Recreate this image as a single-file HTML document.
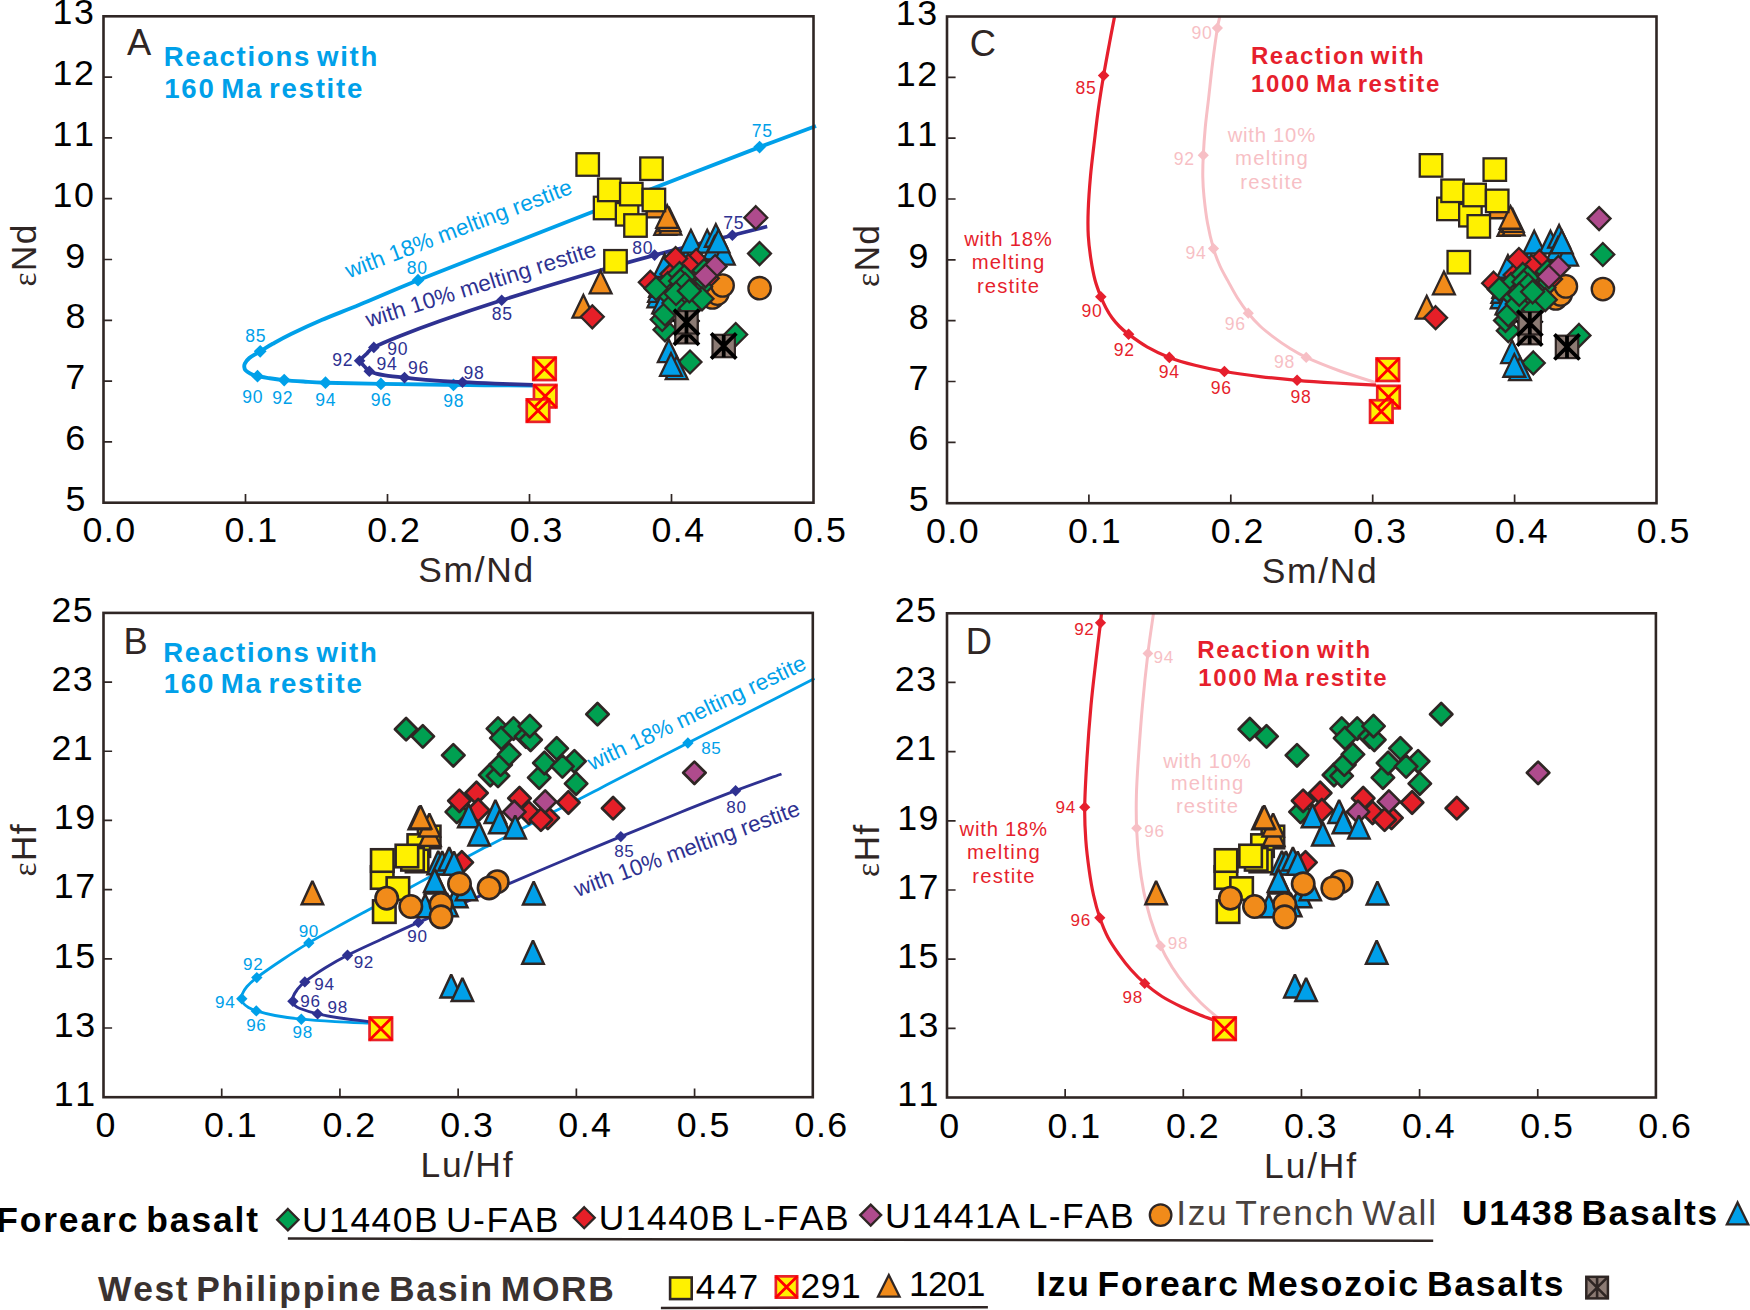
<!DOCTYPE html>
<html><head><meta charset="utf-8"><title>Figure</title>
<style>html,body{margin:0;padding:0;background:#fff}svg{display:block}text{font-kerning:none}</style></head>
<body>
<svg width="1750" height="1310" viewBox="0 0 1750 1310">
<rect width="1750" height="1310" fill="#fff"/>
<path d="M816 126C806.6 129.52 780.6 139.1 759.6 147.1C738.6 155.1 716.6 163.68 690 174C663.4 184.32 630 197.3 600 209C570 220.7 540.33 232.33 510 244.2C479.67 256.07 443 270.15 418 280.2C393 290.25 376.07 297.87 360 304.5C343.93 311.13 333.08 315.08 321.6 320C310.12 324.92 299.25 330.03 291.1 334C282.95 337.97 277.85 340.92 272.7 343.8C267.55 346.68 264.07 348.95 260.2 351.3C256.33 353.65 252.05 355.87 249.5 357.9C246.95 359.93 245.77 361.98 244.9 363.5C244.03 365.02 244.2 365.87 244.3 367C244.4 368.13 244.53 369.23 245.5 370.3C246.47 371.37 248.1 372.42 250.1 373.4C252.1 374.38 254.23 375.4 257.5 376.2C260.77 377 265.25 377.55 269.7 378.2C274.15 378.85 278.6 379.55 284.2 380.1C289.8 380.65 296.42 381.07 303.3 381.5C310.18 381.93 312.57 382.3 325.5 382.7C338.43 383.1 359.57 383.53 380.9 383.9C402.23 384.27 428.15 384.62 453.5 384.9C478.85 385.18 519.75 385.48 533 385.6" fill="none" stroke="#00a0e9" stroke-width="3.9" stroke-linecap="butt" stroke-linejoin="round"/>
<path d="M759.6 140.7L766 147.1L759.6 153.5L753.2 147.1Z" fill="#00a0e9"/>
<path d="M418 273.8L424.4 280.2L418 286.6L411.6 280.2Z" fill="#00a0e9"/>
<path d="M260.2 344.9L266.6 351.3L260.2 357.7L253.8 351.3Z" fill="#00a0e9"/>
<path d="M257.5 369.8L263.9 376.2L257.5 382.6L251.1 376.2Z" fill="#00a0e9"/>
<path d="M284.2 373.7L290.6 380.1L284.2 386.5L277.8 380.1Z" fill="#00a0e9"/>
<path d="M325.5 376.3L331.9 382.7L325.5 389.1L319.1 382.7Z" fill="#00a0e9"/>
<path d="M380.9 377.5L387.3 383.9L380.9 390.3L374.5 383.9Z" fill="#00a0e9"/>
<path d="M453.5 378.5L459.9 384.9L453.5 391.3L447.1 384.9Z" fill="#00a0e9"/>
<text x="255.85" y="342" font-family='"Liberation Sans", sans-serif' font-size="17.6" fill="#00a0e9" text-anchor="middle" letter-spacing="0.7">85</text>
<text x="252.65" y="403.3" font-family='"Liberation Sans", sans-serif' font-size="17.6" fill="#00a0e9" text-anchor="middle" letter-spacing="0.7">90</text>
<text x="282.65" y="404.3" font-family='"Liberation Sans", sans-serif' font-size="17.6" fill="#00a0e9" text-anchor="middle" letter-spacing="0.7">92</text>
<text x="325.65" y="405.6" font-family='"Liberation Sans", sans-serif' font-size="17.6" fill="#00a0e9" text-anchor="middle" letter-spacing="0.7">94</text>
<text x="381.25" y="406.4" font-family='"Liberation Sans", sans-serif' font-size="17.6" fill="#00a0e9" text-anchor="middle" letter-spacing="0.7">96</text>
<text x="453.85" y="407" font-family='"Liberation Sans", sans-serif' font-size="17.6" fill="#00a0e9" text-anchor="middle" letter-spacing="0.7">98</text>
<text x="417.25" y="273.5" font-family='"Liberation Sans", sans-serif' font-size="17.6" fill="#00a0e9" text-anchor="middle" letter-spacing="0.7">80</text>
<text x="762.35" y="136.9" font-family='"Liberation Sans", sans-serif' font-size="17.6" fill="#00a0e9" text-anchor="middle" letter-spacing="0.7">75</text>
<path d="M767.2 226.5C761.4 227.95 751.17 230.43 732.4 235.2C713.63 239.97 680 248.27 654.6 255.1C629.2 261.93 605.48 268.67 580 276.2C554.52 283.73 525.03 292.83 501.7 300.3C478.37 307.77 456.95 315.05 440 321C423.05 326.95 411.03 331.6 400 336C388.97 340.4 379.38 344.42 373.8 347.4C368.22 350.38 368.63 351.97 366.5 353.9C364.37 355.83 362.2 357.85 361 359C359.8 360.15 359.33 360.2 359.3 360.8C359.27 361.4 359.93 361.65 360.8 362.6C361.67 363.55 363.08 365.07 364.5 366.5C365.92 367.93 367.38 370.02 369.3 371.2C371.22 372.38 373.38 372.92 376 373.6C378.62 374.28 380.25 374.63 385 375.3C389.75 375.97 397 376.78 404.5 377.6C412 378.42 420.33 379.43 430 380.2C439.67 380.97 451.67 381.63 462.5 382.2C473.33 382.77 483.25 383.17 495 383.6C506.75 384.03 526.67 384.6 533 384.8" fill="none" stroke="#2e3191" stroke-width="3.7" stroke-linecap="butt" stroke-linejoin="round"/>
<path d="M732.4 229.4L738.2 235.2L732.4 241L726.6 235.2Z" fill="#2e3191"/>
<path d="M654.6 249.3L660.4 255.1L654.6 260.9L648.8 255.1Z" fill="#2e3191"/>
<path d="M501.7 294.5L507.5 300.3L501.7 306.1L495.9 300.3Z" fill="#2e3191"/>
<path d="M373.8 341.6L379.6 347.4L373.8 353.2L368 347.4Z" fill="#2e3191"/>
<path d="M359.6 355L365.4 360.8L359.6 366.6L353.8 360.8Z" fill="#2e3191"/>
<path d="M369.3 365.4L375.1 371.2L369.3 377L363.5 371.2Z" fill="#2e3191"/>
<path d="M404.5 371.8L410.3 377.6L404.5 383.4L398.7 377.6Z" fill="#2e3191"/>
<path d="M462.5 376.4L468.3 382.2L462.5 388L456.7 382.2Z" fill="#2e3191"/>
<text x="502.15" y="320.2" font-family='"Liberation Sans", sans-serif' font-size="17.6" fill="#2e3191" text-anchor="middle" letter-spacing="0.7">85</text>
<text x="397.65" y="354.5" font-family='"Liberation Sans", sans-serif' font-size="17.6" fill="#2e3191" text-anchor="middle" letter-spacing="0.7">90</text>
<text x="342.75" y="365.9" font-family='"Liberation Sans", sans-serif' font-size="17.6" fill="#2e3191" text-anchor="middle" letter-spacing="0.7">92</text>
<text x="386.95" y="370.4" font-family='"Liberation Sans", sans-serif' font-size="17.6" fill="#2e3191" text-anchor="middle" letter-spacing="0.7">94</text>
<text x="418.45" y="373.7" font-family='"Liberation Sans", sans-serif' font-size="17.6" fill="#2e3191" text-anchor="middle" letter-spacing="0.7">96</text>
<text x="473.95" y="379.4" font-family='"Liberation Sans", sans-serif' font-size="17.6" fill="#2e3191" text-anchor="middle" letter-spacing="0.7">98</text>
<text x="642.75" y="254.3" font-family='"Liberation Sans", sans-serif' font-size="17.6" fill="#2e3191" text-anchor="middle" letter-spacing="0.7">80</text>
<text x="733.75" y="228.9" font-family='"Liberation Sans", sans-serif' font-size="17.6" fill="#2e3191" text-anchor="middle" letter-spacing="0.7">75</text>
<path d="M1219.8 16.9C1219.4 18.77 1218.58 20.58 1217.4 28.1C1216.22 35.62 1214.17 50.3 1212.7 62C1211.23 73.7 1209.83 87.47 1208.6 98.3C1207.37 109.13 1206.18 117.52 1205.3 127C1204.42 136.48 1203.72 146.87 1203.3 155.2C1202.88 163.53 1202.68 170.1 1202.8 177C1202.92 183.9 1203.22 188.93 1204 196.6C1204.78 204.27 1205.92 214.33 1207.5 223C1209.08 231.67 1211.42 241.43 1213.5 248.6C1215.58 255.77 1217.6 260.62 1220 266C1222.4 271.38 1224.98 275.57 1227.9 280.9C1230.82 286.23 1234.1 292.62 1237.5 298C1240.9 303.38 1244.55 308.53 1248.3 313.2C1252.05 317.87 1255.78 322.02 1260 326C1264.22 329.98 1268.77 333.47 1273.6 337.1C1278.43 340.73 1283.57 344.42 1289 347.8C1294.43 351.18 1297.7 353.53 1306.2 357.4C1314.7 361.27 1328.37 366.78 1340 371C1351.63 375.22 1370 380.75 1376 382.7" fill="none" stroke="#f7bfc5" stroke-width="3.0" stroke-linecap="butt" stroke-linejoin="round"/>
<path d="M1217.4 22.5L1223 28.1L1217.4 33.7L1211.8 28.1Z" fill="#f7bfc5"/>
<path d="M1203.3 149.6L1208.9 155.2L1203.3 160.8L1197.7 155.2Z" fill="#f7bfc5"/>
<path d="M1213.5 243L1219.1 248.6L1213.5 254.2L1207.9 248.6Z" fill="#f7bfc5"/>
<path d="M1248.3 307.6L1253.9 313.2L1248.3 318.8L1242.7 313.2Z" fill="#f7bfc5"/>
<path d="M1306.2 351.8L1311.8 357.4L1306.2 363L1300.6 357.4Z" fill="#f7bfc5"/>
<text x="1201.95" y="38.9" font-family='"Liberation Sans", sans-serif' font-size="17.6" fill="#f7bfc5" text-anchor="middle" letter-spacing="0.7">90</text>
<text x="1184.35" y="165.3" font-family='"Liberation Sans", sans-serif' font-size="17.6" fill="#f7bfc5" text-anchor="middle" letter-spacing="0.7">92</text>
<text x="1195.95" y="259" font-family='"Liberation Sans", sans-serif' font-size="17.6" fill="#f7bfc5" text-anchor="middle" letter-spacing="0.7">94</text>
<text x="1235.25" y="329.9" font-family='"Liberation Sans", sans-serif' font-size="17.6" fill="#f7bfc5" text-anchor="middle" letter-spacing="0.7">96</text>
<text x="1284.45" y="367.9" font-family='"Liberation Sans", sans-serif' font-size="17.6" fill="#f7bfc5" text-anchor="middle" letter-spacing="0.7">98</text>
<path d="M1114.5 16.9C1113.67 21.25 1111.32 33.23 1109.5 43C1107.68 52.77 1105.43 64.67 1103.6 75.5C1101.77 86.33 1100.02 97.18 1098.5 108C1096.98 118.82 1095.83 129.07 1094.5 140.4C1093.17 151.73 1091.55 164.28 1090.5 176C1089.45 187.72 1088.57 200.7 1088.2 210.7C1087.83 220.7 1087.83 227.82 1088.3 236C1088.77 244.18 1089.88 252.47 1091 259.8C1092.12 267.13 1093.37 273.85 1095 280C1096.63 286.15 1098.97 292.03 1100.8 296.7C1102.63 301.37 1104.13 304.48 1106 308C1107.87 311.52 1109.75 314.72 1112 317.8C1114.25 320.88 1116.73 323.75 1119.5 326.5C1122.27 329.25 1124.02 330.92 1128.6 334.3C1133.18 337.68 1140.22 342.95 1147 346.8C1153.78 350.65 1161.3 354.32 1169.3 357.4C1177.3 360.48 1185.82 362.95 1195 365.3C1204.18 367.65 1213.57 369.62 1224.4 371.5C1235.23 373.38 1247.88 375.13 1260 376.6C1272.12 378.07 1284.6 379.23 1297.1 380.3C1309.6 381.37 1321.85 382.18 1335 383C1348.15 383.82 1369.17 384.83 1376 385.2" fill="none" stroke="#e61f2d" stroke-width="3.2" stroke-linecap="butt" stroke-linejoin="round"/>
<path d="M1103.6 69.7L1109.4 75.5L1103.6 81.3L1097.8 75.5Z" fill="#e61f2d"/>
<path d="M1100.8 290.9L1106.6 296.7L1100.8 302.5L1095 296.7Z" fill="#e61f2d"/>
<path d="M1128.6 328.5L1134.4 334.3L1128.6 340.1L1122.8 334.3Z" fill="#e61f2d"/>
<path d="M1169.3 351.6L1175.1 357.4L1169.3 363.2L1163.5 357.4Z" fill="#e61f2d"/>
<path d="M1224.4 365.7L1230.2 371.5L1224.4 377.3L1218.6 371.5Z" fill="#e61f2d"/>
<path d="M1297.1 374.5L1302.9 380.3L1297.1 386.1L1291.3 380.3Z" fill="#e61f2d"/>
<text x="1086.05" y="94" font-family='"Liberation Sans", sans-serif' font-size="17.6" fill="#e61f2d" text-anchor="middle" letter-spacing="0.7">85</text>
<text x="1092.05" y="316.6" font-family='"Liberation Sans", sans-serif' font-size="17.6" fill="#e61f2d" text-anchor="middle" letter-spacing="0.7">90</text>
<text x="1124.35" y="356.3" font-family='"Liberation Sans", sans-serif' font-size="17.6" fill="#e61f2d" text-anchor="middle" letter-spacing="0.7">92</text>
<text x="1169.25" y="377.7" font-family='"Liberation Sans", sans-serif' font-size="17.6" fill="#e61f2d" text-anchor="middle" letter-spacing="0.7">94</text>
<text x="1221.25" y="394.2" font-family='"Liberation Sans", sans-serif' font-size="17.6" fill="#e61f2d" text-anchor="middle" letter-spacing="0.7">96</text>
<text x="1300.95" y="403" font-family='"Liberation Sans", sans-serif' font-size="17.6" fill="#e61f2d" text-anchor="middle" letter-spacing="0.7">98</text>
<path d="M814.5 678.5C803.75 684 771.1 700.75 750 711.5C728.9 722.25 704.57 734.5 687.9 743C671.23 751.5 661.32 756.67 650 762.5C638.68 768.33 628.33 773.68 620 778C611.67 782.32 606.58 784.98 600 788.4C593.42 791.82 588.37 794.52 580.5 798.5C572.63 802.48 561.93 807.6 552.8 812.3C543.67 817 536.17 821.25 525.7 826.7C515.23 832.15 497.62 841.12 490 845C482.38 848.88 490 844.7 480 850C470 855.3 441.55 870.6 430 876.8C418.45 883 420.37 882 410.7 887.2C401.03 892.4 383.78 901.65 372 908C360.22 914.35 350.53 919.48 340 925.3C329.47 931.12 318.47 937.12 308.8 942.9C299.13 948.68 290.67 954.22 282 960C273.33 965.78 262.63 973.18 256.8 977.6C250.97 982.02 249.42 983.77 247 986.5C244.58 989.23 243.2 991.97 242.3 994C241.4 996.03 241.4 997.12 241.6 998.7C241.8 1000.28 242.35 1002.03 243.5 1003.5C244.65 1004.97 246.37 1006.27 248.5 1007.5C250.63 1008.73 251.88 1009.57 256.3 1010.9C260.72 1012.23 267.5 1014.12 275 1015.5C282.5 1016.88 291.3 1018.17 301.3 1019.2C311.3 1020.23 323.72 1021.03 335 1021.7C346.28 1022.37 363.33 1022.95 369 1023.2" fill="none" stroke="#00a0e9" stroke-width="2.8" stroke-linecap="butt" stroke-linejoin="round"/>
<path d="M687.9 737.3L693.6 743L687.9 748.7L682.2 743Z" fill="#00a0e9"/>
<path d="M308.8 937.2L314.5 942.9L308.8 948.6L303.1 942.9Z" fill="#00a0e9"/>
<path d="M256.8 971.9L262.5 977.6L256.8 983.3L251.1 977.6Z" fill="#00a0e9"/>
<path d="M241.8 993L247.5 998.7L241.8 1004.4L236.1 998.7Z" fill="#00a0e9"/>
<path d="M256.3 1005.2L262 1010.9L256.3 1016.6L250.6 1010.9Z" fill="#00a0e9"/>
<path d="M301.3 1013.5L307 1019.2L301.3 1024.9L295.6 1019.2Z" fill="#00a0e9"/>
<text x="711.35" y="754.1" font-family='"Liberation Sans", sans-serif' font-size="17.1" fill="#00a0e9" text-anchor="middle" letter-spacing="0.7">85</text>
<text x="308.85" y="937.4" font-family='"Liberation Sans", sans-serif' font-size="17.1" fill="#00a0e9" text-anchor="middle" letter-spacing="0.7">90</text>
<text x="253.15" y="970.2" font-family='"Liberation Sans", sans-serif' font-size="17.1" fill="#00a0e9" text-anchor="middle" letter-spacing="0.7">92</text>
<text x="225.15" y="1007.8" font-family='"Liberation Sans", sans-serif' font-size="17.1" fill="#00a0e9" text-anchor="middle" letter-spacing="0.7">94</text>
<text x="256.35" y="1031" font-family='"Liberation Sans", sans-serif' font-size="17.1" fill="#00a0e9" text-anchor="middle" letter-spacing="0.7">96</text>
<text x="302.75" y="1038.2" font-family='"Liberation Sans", sans-serif' font-size="17.1" fill="#00a0e9" text-anchor="middle" letter-spacing="0.7">98</text>
<path d="M781.5 774C773.85 776.78 752.52 784.28 735.6 790.7C718.68 797.12 699.13 804.85 680 812.5C660.87 820.15 640.8 828.35 620.8 836.6C600.8 844.85 580.13 853.52 560 862C539.87 870.48 516.67 880.42 500 887.5C483.33 894.58 473.6 898.68 460 904.5C446.4 910.32 431.4 916.65 418.4 922.4C405.4 928.15 393.82 933.53 382 939C370.18 944.47 357 950.37 347.5 955.2C338 960.03 332.12 963.55 325 968C317.88 972.45 309.47 978.23 304.8 981.9C300.13 985.57 298.97 987.48 297 990C295.03 992.52 293.7 995.12 293 997C292.3 998.88 292.55 999.97 292.8 1001.3C293.05 1002.63 293.3 1003.8 294.5 1005C295.7 1006.2 296.15 1007.02 300 1008.5C303.85 1009.98 310.93 1012.32 317.6 1013.9C324.27 1015.48 331.43 1016.72 340 1018C348.57 1019.28 364.17 1021 369 1021.6" fill="none" stroke="#2e3191" stroke-width="2.9" stroke-linecap="butt" stroke-linejoin="round"/>
<path d="M735.6 785L741.3 790.7L735.6 796.4L729.9 790.7Z" fill="#2e3191"/>
<path d="M620.8 830.9L626.5 836.6L620.8 842.3L615.1 836.6Z" fill="#2e3191"/>
<path d="M418.4 916.7L424.1 922.4L418.4 928.1L412.7 922.4Z" fill="#2e3191"/>
<path d="M347.5 949.5L353.2 955.2L347.5 960.9L341.8 955.2Z" fill="#2e3191"/>
<path d="M304.8 976.2L310.5 981.9L304.8 987.6L299.1 981.9Z" fill="#2e3191"/>
<path d="M292.9 995.6L298.6 1001.3L292.9 1007L287.2 1001.3Z" fill="#2e3191"/>
<path d="M317.6 1008.2L323.3 1013.9L317.6 1019.6L311.9 1013.9Z" fill="#2e3191"/>
<text x="736.55" y="812.5" font-family='"Liberation Sans", sans-serif' font-size="17.1" fill="#2e3191" text-anchor="middle" letter-spacing="0.7">80</text>
<text x="624.35" y="856.7" font-family='"Liberation Sans", sans-serif' font-size="17.1" fill="#2e3191" text-anchor="middle" letter-spacing="0.7">85</text>
<text x="417.45" y="942.2" font-family='"Liberation Sans", sans-serif' font-size="17.1" fill="#2e3191" text-anchor="middle" letter-spacing="0.7">90</text>
<text x="363.85" y="968.3" font-family='"Liberation Sans", sans-serif' font-size="17.1" fill="#2e3191" text-anchor="middle" letter-spacing="0.7">92</text>
<text x="324.55" y="990.2" font-family='"Liberation Sans", sans-serif' font-size="17.1" fill="#2e3191" text-anchor="middle" letter-spacing="0.7">94</text>
<text x="310.45" y="1007" font-family='"Liberation Sans", sans-serif' font-size="17.1" fill="#2e3191" text-anchor="middle" letter-spacing="0.7">96</text>
<text x="337.65" y="1012.6" font-family='"Liberation Sans", sans-serif' font-size="17.1" fill="#2e3191" text-anchor="middle" letter-spacing="0.7">98</text>
<path d="M1153.5 613.3C1152.57 619.98 1149.73 638.12 1147.9 653.4C1146.07 668.68 1144.08 687.57 1142.5 705C1140.92 722.43 1139.42 743 1138.4 758C1137.38 773 1136.7 783.3 1136.4 795C1136.1 806.7 1136.17 817.37 1136.6 828.2C1137.03 839.03 1137.82 849.47 1139 860C1140.18 870.53 1141.78 881.57 1143.7 891.4C1145.62 901.23 1147.7 909.92 1150.5 919C1153.3 928.08 1156.92 937.9 1160.5 945.9C1164.08 953.9 1167.78 960.28 1172 967C1176.22 973.72 1180.97 980.2 1185.8 986.2C1190.63 992.2 1195.63 997.7 1201 1003C1206.37 1008.3 1215.17 1015.5 1218 1018" fill="none" stroke="#f7bfc5" stroke-width="3.0" stroke-linecap="butt" stroke-linejoin="round"/>
<path d="M1147.9 648L1153.3 653.4L1147.9 658.8L1142.5 653.4Z" fill="#f7bfc5"/>
<path d="M1136.6 822.8L1142 828.2L1136.6 833.6L1131.2 828.2Z" fill="#f7bfc5"/>
<path d="M1160.5 940.5L1165.9 945.9L1160.5 951.3L1155.1 945.9Z" fill="#f7bfc5"/>
<text x="1163.65" y="663.1" font-family='"Liberation Sans", sans-serif' font-size="17.1" fill="#f7bfc5" text-anchor="middle" letter-spacing="0.7">94</text>
<text x="1154.55" y="836.9" font-family='"Liberation Sans", sans-serif' font-size="17.1" fill="#f7bfc5" text-anchor="middle" letter-spacing="0.7">96</text>
<text x="1178.05" y="948.9" font-family='"Liberation Sans", sans-serif' font-size="17.1" fill="#f7bfc5" text-anchor="middle" letter-spacing="0.7">98</text>
<path d="M1101.5 613.3C1101.33 614.88 1101.42 615.02 1100.5 622.8C1099.58 630.58 1097.58 646.25 1096 660C1094.42 673.75 1092.5 688.97 1091 705.3C1089.5 721.63 1088.05 741.02 1087 758C1085.95 774.98 1084.9 793.53 1084.7 807.2C1084.5 820.87 1085.05 829.47 1085.8 840C1086.55 850.53 1087.92 861.23 1089.2 870.4C1090.48 879.57 1091.73 887.1 1093.5 895C1095.27 902.9 1097.38 910.72 1099.8 917.8C1102.22 924.88 1104.78 931.37 1108 937.5C1111.22 943.63 1115.27 949.22 1119.1 954.6C1122.93 959.98 1126.73 965 1131 969.8C1135.27 974.6 1139.53 978.95 1144.7 983.4C1149.87 987.85 1155.73 992.52 1162 996.5C1168.27 1000.48 1175.97 1004.22 1182.3 1007.3C1188.63 1010.38 1194.05 1012.63 1200 1015C1205.95 1017.37 1215 1020.42 1218 1021.5" fill="none" stroke="#e61f2d" stroke-width="3.2" stroke-linecap="butt" stroke-linejoin="round"/>
<path d="M1100.5 617.2L1106.1 622.8L1100.5 628.4L1094.9 622.8Z" fill="#e61f2d"/>
<path d="M1084.7 801.6L1090.3 807.2L1084.7 812.8L1079.1 807.2Z" fill="#e61f2d"/>
<path d="M1099.8 912.2L1105.4 917.8L1099.8 923.4L1094.2 917.8Z" fill="#e61f2d"/>
<path d="M1144.7 977.8L1150.3 983.4L1144.7 989L1139.1 983.4Z" fill="#e61f2d"/>
<text x="1084.35" y="635.3" font-family='"Liberation Sans", sans-serif' font-size="17.1" fill="#e61f2d" text-anchor="middle" letter-spacing="0.7">92</text>
<text x="1065.65" y="813.4" font-family='"Liberation Sans", sans-serif' font-size="17.1" fill="#e61f2d" text-anchor="middle" letter-spacing="0.7">94</text>
<text x="1080.75" y="926.4" font-family='"Liberation Sans", sans-serif' font-size="17.1" fill="#e61f2d" text-anchor="middle" letter-spacing="0.7">96</text>
<text x="1132.75" y="1003" font-family='"Liberation Sans", sans-serif' font-size="17.1" fill="#e61f2d" text-anchor="middle" letter-spacing="0.7">98</text>
<text x="348.7" y="278.6" font-family='"Liberation Sans", sans-serif' font-size="22.5" fill="#00a0e9" text-anchor="start" letter-spacing="0.14" transform="rotate(-20.8 348.7 278.6)">with 18% melting restite</text>
<text x="368.4" y="327.6" font-family='"Liberation Sans", sans-serif' font-size="22.5" fill="#2e3191" text-anchor="start" letter-spacing="0.12" transform="rotate(-17.4 368.4 327.6)">with 10% melting restite</text>
<text x="592" y="771" font-family='"Liberation Sans", sans-serif' font-size="22.5" fill="#00a0e9" text-anchor="start" letter-spacing="0.06" transform="rotate(-25.4 592 771)">with 18% melting restite</text>
<text x="577.6" y="897.2" font-family='"Liberation Sans", sans-serif' font-size="22.5" fill="#2e3191" text-anchor="start" letter-spacing="0.04" transform="rotate(-20.25 577.6 897.2)">with 10% melting restite</text>
<circle cx="759.6" cy="288.2" r="11.2" fill="#f18b1a" stroke="#2f2624" stroke-width="2.3"/>
<circle cx="712.4" cy="297.5" r="11.2" fill="#f18b1a" stroke="#2f2624" stroke-width="2.3"/>
<circle cx="717.4" cy="293.6" r="11.2" fill="#f18b1a" stroke="#2f2624" stroke-width="2.3"/>
<circle cx="722.6" cy="285.5" r="11.2" fill="#f18b1a" stroke="#2f2624" stroke-width="2.3"/>
<path d="M658.4 284.65L669.35 307.35L647.45 307.35Z" fill="#00a0e9" stroke="#2f2624" stroke-width="2.3" stroke-miterlimit="10"/>
<path d="M659 279.15L669.95 301.85L648.05 301.85Z" fill="#00a0e9" stroke="#2f2624" stroke-width="2.3" stroke-miterlimit="10"/>
<path d="M660 274.15L670.95 296.85L649.05 296.85Z" fill="#00a0e9" stroke="#2f2624" stroke-width="2.3" stroke-miterlimit="10"/>
<path d="M663.2 290.75L674.15 313.45L652.25 313.45Z" fill="#00a0e9" stroke="#2f2624" stroke-width="2.3" stroke-miterlimit="10"/>
<path d="M664.6 254.15L675.55 276.85L653.65 276.85Z" fill="#00a0e9" stroke="#2f2624" stroke-width="2.3" stroke-miterlimit="10"/>
<path d="M685.9 249.15L696.85 271.85L674.95 271.85Z" fill="#00a0e9" stroke="#2f2624" stroke-width="2.3" stroke-miterlimit="10"/>
<path d="M690.9 229.85L701.85 252.55L679.95 252.55Z" fill="#00a0e9" stroke="#2f2624" stroke-width="2.3" stroke-miterlimit="10"/>
<path d="M707.2 229.85L718.15 252.55L696.25 252.55Z" fill="#00a0e9" stroke="#2f2624" stroke-width="2.3" stroke-miterlimit="10"/>
<path d="M715.8 224.05L726.75 246.75L704.85 246.75Z" fill="#00a0e9" stroke="#2f2624" stroke-width="2.3" stroke-miterlimit="10"/>
<path d="M714.4 236.65L725.35 259.35L703.45 259.35Z" fill="#00a0e9" stroke="#2f2624" stroke-width="2.3" stroke-miterlimit="10"/>
<path d="M723.8 241.95L734.75 264.65L712.85 264.65Z" fill="#00a0e9" stroke="#2f2624" stroke-width="2.3" stroke-miterlimit="10"/>
<path d="M718.5 229.65L729.45 252.35L707.55 252.35Z" fill="#00a0e9" stroke="#2f2624" stroke-width="2.3" stroke-miterlimit="10"/>
<path d="M707.3 266.75L718.75 278.2L707.3 289.65L695.85 278.2Z" fill="#e61f28" stroke="#2f2624" stroke-width="2.3" stroke-linejoin="miter"/>
<path d="M650.3 270.85L661.75 282.3L650.3 293.75L638.85 282.3Z" fill="#e61f28" stroke="#2f2624" stroke-width="2.3" stroke-linejoin="miter"/>
<path d="M671.8 262.65L683.25 274.1L671.8 285.55L660.35 274.1Z" fill="#e61f28" stroke="#2f2624" stroke-width="2.3" stroke-linejoin="miter"/>
<path d="M696.2 249.05L707.65 260.5L696.2 271.95L684.75 260.5Z" fill="#e61f28" stroke="#2f2624" stroke-width="2.3" stroke-linejoin="miter"/>
<path d="M688.3 254.35L699.75 265.8L688.3 277.25L676.85 265.8Z" fill="#e61f28" stroke="#2f2624" stroke-width="2.3" stroke-linejoin="miter"/>
<path d="M675.6 247.15L687.05 258.6L675.6 270.05L664.15 258.6Z" fill="#e61f28" stroke="#2f2624" stroke-width="2.3" stroke-linejoin="miter"/>
<path d="M735.7 323.05L747.15 334.5L735.7 345.95L724.25 334.5Z" fill="#00a051" stroke="#2f2624" stroke-width="2.3" stroke-linejoin="miter"/>
<path d="M759.5 242.15L770.95 253.6L759.5 265.05L748.05 253.6Z" fill="#00a051" stroke="#2f2624" stroke-width="2.3" stroke-linejoin="miter"/>
<path d="M690 350.55L701.45 362L690 373.45L678.55 362Z" fill="#00a051" stroke="#2f2624" stroke-width="2.3" stroke-linejoin="miter"/>
<path d="M667.8 272.05L679.25 283.5L667.8 294.95L656.35 283.5Z" fill="#00a051" stroke="#2f2624" stroke-width="2.3" stroke-linejoin="miter"/>
<path d="M694.2 270.45L705.65 281.9L694.2 293.35L682.75 281.9Z" fill="#00a051" stroke="#2f2624" stroke-width="2.3" stroke-linejoin="miter"/>
<path d="M700.6 275.25L712.05 286.7L700.6 298.15L689.15 286.7Z" fill="#00a051" stroke="#2f2624" stroke-width="2.3" stroke-linejoin="miter"/>
<path d="M670 284.55L681.45 296L670 307.45L658.55 296Z" fill="#00a051" stroke="#2f2624" stroke-width="2.3" stroke-linejoin="miter"/>
<path d="M682 288.55L693.45 300L682 311.45L670.55 300Z" fill="#00a051" stroke="#2f2624" stroke-width="2.3" stroke-linejoin="miter"/>
<path d="M696 282.55L707.45 294L696 305.45L684.55 294Z" fill="#00a051" stroke="#2f2624" stroke-width="2.3" stroke-linejoin="miter"/>
<path d="M665 318.35L676.45 329.8L665 341.25L653.55 329.8Z" fill="#00a051" stroke="#2f2624" stroke-width="2.3" stroke-linejoin="miter"/>
<path d="M662.2 308.05L673.65 319.5L662.2 330.95L650.75 319.5Z" fill="#00a051" stroke="#2f2624" stroke-width="2.3" stroke-linejoin="miter"/>
<path d="M665 302.55L676.45 314L665 325.45L653.55 314Z" fill="#00a051" stroke="#2f2624" stroke-width="2.3" stroke-linejoin="miter"/>
<path d="M673.9 291.55L685.35 303L673.9 314.45L662.45 303Z" fill="#00a051" stroke="#2f2624" stroke-width="2.3" stroke-linejoin="miter"/>
<path d="M690.4 297.05L701.85 308.5L690.4 319.95L678.95 308.5Z" fill="#00a051" stroke="#2f2624" stroke-width="2.3" stroke-linejoin="miter"/>
<path d="M702 287.35L713.45 298.8L702 310.25L690.55 298.8Z" fill="#00a051" stroke="#2f2624" stroke-width="2.3" stroke-linejoin="miter"/>
<path d="M704.1 259.15L715.55 270.6L704.1 282.05L692.65 270.6Z" fill="#00a051" stroke="#2f2624" stroke-width="2.3" stroke-linejoin="miter"/>
<path d="M679.5 262.05L690.95 273.5L679.5 284.95L668.05 273.5Z" fill="#00a051" stroke="#2f2624" stroke-width="2.3" stroke-linejoin="miter"/>
<path d="M684.2 265.35L695.65 276.8L684.2 288.25L672.75 276.8Z" fill="#00a051" stroke="#2f2624" stroke-width="2.3" stroke-linejoin="miter"/>
<path d="M680.5 269.55L691.95 281L680.5 292.45L669.05 281Z" fill="#00a051" stroke="#2f2624" stroke-width="2.3" stroke-linejoin="miter"/>
<path d="M685 273.05L696.45 284.5L685 295.95L673.55 284.5Z" fill="#00a051" stroke="#2f2624" stroke-width="2.3" stroke-linejoin="miter"/>
<path d="M656 277.05L667.45 288.5L656 299.95L644.55 288.5Z" fill="#00a051" stroke="#2f2624" stroke-width="2.3" stroke-linejoin="miter"/>
<path d="M676 282.05L687.45 293.5L676 304.95L664.55 293.5Z" fill="#00a051" stroke="#2f2624" stroke-width="2.3" stroke-linejoin="miter"/>
<path d="M689.3 279.45L700.75 290.9L689.3 302.35L677.85 290.9Z" fill="#00a051" stroke="#2f2624" stroke-width="2.3" stroke-linejoin="miter"/>
<path d="M755.8 206.25L767.25 217.7L755.8 229.15L744.35 217.7Z" fill="#af4b8d" stroke="#2f2624" stroke-width="2.3" stroke-linejoin="miter"/>
<path d="M715.1 255.05L726.55 266.5L715.1 277.95L703.65 266.5Z" fill="#af4b8d" stroke="#2f2624" stroke-width="2.3" stroke-linejoin="miter"/>
<path d="M705.5 264.35L716.95 275.8L705.5 287.25L694.05 275.8Z" fill="#af4b8d" stroke="#2f2624" stroke-width="2.3" stroke-linejoin="miter"/>
<path d="M668.8 339.45L679.75 362.15L657.85 362.15Z" fill="#00a0e9" stroke="#2f2624" stroke-width="2.3" stroke-miterlimit="10"/>
<path d="M676.7 356.45L687.65 379.15L665.75 379.15Z" fill="#00a0e9" stroke="#2f2624" stroke-width="2.3" stroke-miterlimit="10"/>
<path d="M671 353.15L681.95 375.85L660.05 375.85Z" fill="#00a0e9" stroke="#2f2624" stroke-width="2.3" stroke-miterlimit="10"/>
<path d="M655.3 194.65L666.25 217.35L644.35 217.35Z" fill="#f18b1a" stroke="#2f2624" stroke-width="2.3" stroke-miterlimit="10"/>
<path d="M665.2 212.15L676.15 234.85L654.25 234.85Z" fill="#f18b1a" stroke="#2f2624" stroke-width="2.3" stroke-miterlimit="10"/>
<path d="M670.4 211.85L681.35 234.55L659.45 234.55Z" fill="#f18b1a" stroke="#2f2624" stroke-width="2.3" stroke-miterlimit="10"/>
<path d="M669.5 208.35L680.45 231.05L658.55 231.05Z" fill="#f18b1a" stroke="#2f2624" stroke-width="2.3" stroke-miterlimit="10"/>
<path d="M667.2 205.15L678.15 227.85L656.25 227.85Z" fill="#f18b1a" stroke="#2f2624" stroke-width="2.3" stroke-miterlimit="10"/>
<path d="M600.6 270.7L611.55 293.4L589.65 293.4Z" fill="#f18b1a" stroke="#2f2624" stroke-width="2.3" stroke-miterlimit="10"/>
<path d="M583.4 294.95L594.35 317.65L572.45 317.65Z" fill="#f18b1a" stroke="#2f2624" stroke-width="2.3" stroke-miterlimit="10"/>
<path d="M592.3 305.35L603.75 316.8L592.3 328.25L580.85 316.8Z" fill="#e61f28" stroke="#2f2624" stroke-width="2.3" stroke-linejoin="miter"/>
<rect x="576.45" y="153.25" width="22.5" height="22.5" fill="#fff100" stroke="#2f2624" stroke-width="2.3"/>
<rect x="640.25" y="157.45" width="22.5" height="22.5" fill="#fff100" stroke="#2f2624" stroke-width="2.3"/>
<rect x="593.85" y="196.75" width="22.5" height="22.5" fill="#fff100" stroke="#2f2624" stroke-width="2.3"/>
<rect x="615.85" y="203.05" width="22.5" height="22.5" fill="#fff100" stroke="#2f2624" stroke-width="2.3"/>
<rect x="598.05" y="178.65" width="22.5" height="22.5" fill="#fff100" stroke="#2f2624" stroke-width="2.3"/>
<rect x="620.05" y="182.85" width="22.5" height="22.5" fill="#fff100" stroke="#2f2624" stroke-width="2.3"/>
<rect x="642.65" y="188.75" width="22.5" height="22.5" fill="#fff100" stroke="#2f2624" stroke-width="2.3"/>
<rect x="624.25" y="214.25" width="22.5" height="22.5" fill="#fff100" stroke="#2f2624" stroke-width="2.3"/>
<rect x="604.25" y="250.05" width="22.5" height="22.5" fill="#fff100" stroke="#2f2624" stroke-width="2.3"/>
<rect x="675.2" y="321" width="22.4" height="22.4" fill="#8c7b74" stroke="#2f2624" stroke-width="2.2"/>
<path d="M673.8 319.6L699 344.8M699 319.6L673.8 344.8M686.4 321L686.4 343.4" stroke="#000" stroke-width="3.8" fill="none"/>
<rect x="675.3" y="311.1" width="22.4" height="22.4" fill="#8c7b74" stroke="#2f2624" stroke-width="2.2"/>
<path d="M673.9 309.7L699.1 334.9M699.1 309.7L673.9 334.9M686.5 311.1L686.5 333.5" stroke="#000" stroke-width="3.8" fill="none"/>
<rect x="712.5" y="334.8" width="22.4" height="22.4" fill="#8c7b74" stroke="#2f2624" stroke-width="2.2"/>
<path d="M711.1 333.4L736.3 358.6M736.3 333.4L711.1 358.6M723.7 334.8L723.7 357.2" stroke="#000" stroke-width="3.8" fill="none"/>
<rect x="533.25" y="357.55" width="22.5" height="22.5" fill="#fff100" stroke="#e8212a" stroke-width="2.7"/>
<rect x="533.95" y="384.95" width="22.5" height="22.5" fill="#fff100" stroke="#e8212a" stroke-width="2.7"/>
<rect x="526.75" y="399.35" width="22.5" height="22.5" fill="#fff100" stroke="#e8212a" stroke-width="2.7"/>
<path d="M533.05 357.35L555.95 380.25M555.95 357.35L533.05 380.25" stroke="#ff0000" stroke-width="2.8" fill="none"/>
<path d="M533.75 384.75L556.65 407.65M556.65 384.75L533.75 407.65" stroke="#ff0000" stroke-width="2.8" fill="none"/>
<path d="M526.55 399.15L549.45 422.05M549.45 399.15L526.55 422.05" stroke="#ff0000" stroke-width="2.8" fill="none"/>
<circle cx="1602.9" cy="289.1" r="11.2" fill="#f18b1a" stroke="#2f2624" stroke-width="2.3"/>
<circle cx="1555.7" cy="298.4" r="11.2" fill="#f18b1a" stroke="#2f2624" stroke-width="2.3"/>
<circle cx="1560.7" cy="294.5" r="11.2" fill="#f18b1a" stroke="#2f2624" stroke-width="2.3"/>
<circle cx="1565.9" cy="286.4" r="11.2" fill="#f18b1a" stroke="#2f2624" stroke-width="2.3"/>
<path d="M1501.7 285.55L1512.65 308.25L1490.75 308.25Z" fill="#00a0e9" stroke="#2f2624" stroke-width="2.3" stroke-miterlimit="10"/>
<path d="M1502.3 280.05L1513.25 302.75L1491.35 302.75Z" fill="#00a0e9" stroke="#2f2624" stroke-width="2.3" stroke-miterlimit="10"/>
<path d="M1503.3 275.05L1514.25 297.75L1492.35 297.75Z" fill="#00a0e9" stroke="#2f2624" stroke-width="2.3" stroke-miterlimit="10"/>
<path d="M1506.5 291.65L1517.45 314.35L1495.55 314.35Z" fill="#00a0e9" stroke="#2f2624" stroke-width="2.3" stroke-miterlimit="10"/>
<path d="M1507.9 255.05L1518.85 277.75L1496.95 277.75Z" fill="#00a0e9" stroke="#2f2624" stroke-width="2.3" stroke-miterlimit="10"/>
<path d="M1529.2 250.05L1540.15 272.75L1518.25 272.75Z" fill="#00a0e9" stroke="#2f2624" stroke-width="2.3" stroke-miterlimit="10"/>
<path d="M1534.2 230.75L1545.15 253.45L1523.25 253.45Z" fill="#00a0e9" stroke="#2f2624" stroke-width="2.3" stroke-miterlimit="10"/>
<path d="M1550.5 230.75L1561.45 253.45L1539.55 253.45Z" fill="#00a0e9" stroke="#2f2624" stroke-width="2.3" stroke-miterlimit="10"/>
<path d="M1559.1 224.95L1570.05 247.65L1548.15 247.65Z" fill="#00a0e9" stroke="#2f2624" stroke-width="2.3" stroke-miterlimit="10"/>
<path d="M1557.7 237.55L1568.65 260.25L1546.75 260.25Z" fill="#00a0e9" stroke="#2f2624" stroke-width="2.3" stroke-miterlimit="10"/>
<path d="M1567.1 242.85L1578.05 265.55L1556.15 265.55Z" fill="#00a0e9" stroke="#2f2624" stroke-width="2.3" stroke-miterlimit="10"/>
<path d="M1561.8 230.55L1572.75 253.25L1550.85 253.25Z" fill="#00a0e9" stroke="#2f2624" stroke-width="2.3" stroke-miterlimit="10"/>
<path d="M1550.6 267.65L1562.05 279.1L1550.6 290.55L1539.15 279.1Z" fill="#e61f28" stroke="#2f2624" stroke-width="2.3" stroke-linejoin="miter"/>
<path d="M1493.6 271.75L1505.05 283.2L1493.6 294.65L1482.15 283.2Z" fill="#e61f28" stroke="#2f2624" stroke-width="2.3" stroke-linejoin="miter"/>
<path d="M1515.1 263.55L1526.55 275L1515.1 286.45L1503.65 275Z" fill="#e61f28" stroke="#2f2624" stroke-width="2.3" stroke-linejoin="miter"/>
<path d="M1539.5 249.95L1550.95 261.4L1539.5 272.85L1528.05 261.4Z" fill="#e61f28" stroke="#2f2624" stroke-width="2.3" stroke-linejoin="miter"/>
<path d="M1531.6 255.25L1543.05 266.7L1531.6 278.15L1520.15 266.7Z" fill="#e61f28" stroke="#2f2624" stroke-width="2.3" stroke-linejoin="miter"/>
<path d="M1518.9 248.05L1530.35 259.5L1518.9 270.95L1507.45 259.5Z" fill="#e61f28" stroke="#2f2624" stroke-width="2.3" stroke-linejoin="miter"/>
<path d="M1579 323.95L1590.45 335.4L1579 346.85L1567.55 335.4Z" fill="#00a051" stroke="#2f2624" stroke-width="2.3" stroke-linejoin="miter"/>
<path d="M1602.8 243.05L1614.25 254.5L1602.8 265.95L1591.35 254.5Z" fill="#00a051" stroke="#2f2624" stroke-width="2.3" stroke-linejoin="miter"/>
<path d="M1533.3 351.45L1544.75 362.9L1533.3 374.35L1521.85 362.9Z" fill="#00a051" stroke="#2f2624" stroke-width="2.3" stroke-linejoin="miter"/>
<path d="M1511.1 272.95L1522.55 284.4L1511.1 295.85L1499.65 284.4Z" fill="#00a051" stroke="#2f2624" stroke-width="2.3" stroke-linejoin="miter"/>
<path d="M1537.5 271.35L1548.95 282.8L1537.5 294.25L1526.05 282.8Z" fill="#00a051" stroke="#2f2624" stroke-width="2.3" stroke-linejoin="miter"/>
<path d="M1543.9 276.15L1555.35 287.6L1543.9 299.05L1532.45 287.6Z" fill="#00a051" stroke="#2f2624" stroke-width="2.3" stroke-linejoin="miter"/>
<path d="M1513.3 285.45L1524.75 296.9L1513.3 308.35L1501.85 296.9Z" fill="#00a051" stroke="#2f2624" stroke-width="2.3" stroke-linejoin="miter"/>
<path d="M1525.3 289.45L1536.75 300.9L1525.3 312.35L1513.85 300.9Z" fill="#00a051" stroke="#2f2624" stroke-width="2.3" stroke-linejoin="miter"/>
<path d="M1539.3 283.45L1550.75 294.9L1539.3 306.35L1527.85 294.9Z" fill="#00a051" stroke="#2f2624" stroke-width="2.3" stroke-linejoin="miter"/>
<path d="M1508.3 319.25L1519.75 330.7L1508.3 342.15L1496.85 330.7Z" fill="#00a051" stroke="#2f2624" stroke-width="2.3" stroke-linejoin="miter"/>
<path d="M1505.5 308.95L1516.95 320.4L1505.5 331.85L1494.05 320.4Z" fill="#00a051" stroke="#2f2624" stroke-width="2.3" stroke-linejoin="miter"/>
<path d="M1508.3 303.45L1519.75 314.9L1508.3 326.35L1496.85 314.9Z" fill="#00a051" stroke="#2f2624" stroke-width="2.3" stroke-linejoin="miter"/>
<path d="M1517.2 292.45L1528.65 303.9L1517.2 315.35L1505.75 303.9Z" fill="#00a051" stroke="#2f2624" stroke-width="2.3" stroke-linejoin="miter"/>
<path d="M1533.7 297.95L1545.15 309.4L1533.7 320.85L1522.25 309.4Z" fill="#00a051" stroke="#2f2624" stroke-width="2.3" stroke-linejoin="miter"/>
<path d="M1545.3 288.25L1556.75 299.7L1545.3 311.15L1533.85 299.7Z" fill="#00a051" stroke="#2f2624" stroke-width="2.3" stroke-linejoin="miter"/>
<path d="M1547.4 260.05L1558.85 271.5L1547.4 282.95L1535.95 271.5Z" fill="#00a051" stroke="#2f2624" stroke-width="2.3" stroke-linejoin="miter"/>
<path d="M1522.8 262.95L1534.25 274.4L1522.8 285.85L1511.35 274.4Z" fill="#00a051" stroke="#2f2624" stroke-width="2.3" stroke-linejoin="miter"/>
<path d="M1527.5 266.25L1538.95 277.7L1527.5 289.15L1516.05 277.7Z" fill="#00a051" stroke="#2f2624" stroke-width="2.3" stroke-linejoin="miter"/>
<path d="M1523.8 270.45L1535.25 281.9L1523.8 293.35L1512.35 281.9Z" fill="#00a051" stroke="#2f2624" stroke-width="2.3" stroke-linejoin="miter"/>
<path d="M1528.3 273.95L1539.75 285.4L1528.3 296.85L1516.85 285.4Z" fill="#00a051" stroke="#2f2624" stroke-width="2.3" stroke-linejoin="miter"/>
<path d="M1499.3 277.95L1510.75 289.4L1499.3 300.85L1487.85 289.4Z" fill="#00a051" stroke="#2f2624" stroke-width="2.3" stroke-linejoin="miter"/>
<path d="M1519.3 282.95L1530.75 294.4L1519.3 305.85L1507.85 294.4Z" fill="#00a051" stroke="#2f2624" stroke-width="2.3" stroke-linejoin="miter"/>
<path d="M1532.6 280.35L1544.05 291.8L1532.6 303.25L1521.15 291.8Z" fill="#00a051" stroke="#2f2624" stroke-width="2.3" stroke-linejoin="miter"/>
<path d="M1599.1 207.15L1610.55 218.6L1599.1 230.05L1587.65 218.6Z" fill="#af4b8d" stroke="#2f2624" stroke-width="2.3" stroke-linejoin="miter"/>
<path d="M1558.4 255.95L1569.85 267.4L1558.4 278.85L1546.95 267.4Z" fill="#af4b8d" stroke="#2f2624" stroke-width="2.3" stroke-linejoin="miter"/>
<path d="M1548.8 265.25L1560.25 276.7L1548.8 288.15L1537.35 276.7Z" fill="#af4b8d" stroke="#2f2624" stroke-width="2.3" stroke-linejoin="miter"/>
<path d="M1512.1 340.35L1523.05 363.05L1501.15 363.05Z" fill="#00a0e9" stroke="#2f2624" stroke-width="2.3" stroke-miterlimit="10"/>
<path d="M1520 357.35L1530.95 380.05L1509.05 380.05Z" fill="#00a0e9" stroke="#2f2624" stroke-width="2.3" stroke-miterlimit="10"/>
<path d="M1514.3 354.05L1525.25 376.75L1503.35 376.75Z" fill="#00a0e9" stroke="#2f2624" stroke-width="2.3" stroke-miterlimit="10"/>
<path d="M1498.6 195.55L1509.55 218.25L1487.65 218.25Z" fill="#f18b1a" stroke="#2f2624" stroke-width="2.3" stroke-miterlimit="10"/>
<path d="M1508.5 213.05L1519.45 235.75L1497.55 235.75Z" fill="#f18b1a" stroke="#2f2624" stroke-width="2.3" stroke-miterlimit="10"/>
<path d="M1513.7 212.75L1524.65 235.45L1502.75 235.45Z" fill="#f18b1a" stroke="#2f2624" stroke-width="2.3" stroke-miterlimit="10"/>
<path d="M1512.8 209.25L1523.75 231.95L1501.85 231.95Z" fill="#f18b1a" stroke="#2f2624" stroke-width="2.3" stroke-miterlimit="10"/>
<path d="M1510.5 206.05L1521.45 228.75L1499.55 228.75Z" fill="#f18b1a" stroke="#2f2624" stroke-width="2.3" stroke-miterlimit="10"/>
<path d="M1443.9 271.6L1454.85 294.3L1432.95 294.3Z" fill="#f18b1a" stroke="#2f2624" stroke-width="2.3" stroke-miterlimit="10"/>
<path d="M1426.7 295.85L1437.65 318.55L1415.75 318.55Z" fill="#f18b1a" stroke="#2f2624" stroke-width="2.3" stroke-miterlimit="10"/>
<path d="M1435.6 306.25L1447.05 317.7L1435.6 329.15L1424.15 317.7Z" fill="#e61f28" stroke="#2f2624" stroke-width="2.3" stroke-linejoin="miter"/>
<rect x="1419.75" y="154.15" width="22.5" height="22.5" fill="#fff100" stroke="#2f2624" stroke-width="2.3"/>
<rect x="1483.55" y="158.35" width="22.5" height="22.5" fill="#fff100" stroke="#2f2624" stroke-width="2.3"/>
<rect x="1437.15" y="197.65" width="22.5" height="22.5" fill="#fff100" stroke="#2f2624" stroke-width="2.3"/>
<rect x="1459.15" y="203.95" width="22.5" height="22.5" fill="#fff100" stroke="#2f2624" stroke-width="2.3"/>
<rect x="1441.35" y="179.55" width="22.5" height="22.5" fill="#fff100" stroke="#2f2624" stroke-width="2.3"/>
<rect x="1463.35" y="183.75" width="22.5" height="22.5" fill="#fff100" stroke="#2f2624" stroke-width="2.3"/>
<rect x="1485.95" y="189.65" width="22.5" height="22.5" fill="#fff100" stroke="#2f2624" stroke-width="2.3"/>
<rect x="1467.55" y="215.15" width="22.5" height="22.5" fill="#fff100" stroke="#2f2624" stroke-width="2.3"/>
<rect x="1447.55" y="250.95" width="22.5" height="22.5" fill="#fff100" stroke="#2f2624" stroke-width="2.3"/>
<rect x="1518.5" y="321.9" width="22.4" height="22.4" fill="#8c7b74" stroke="#2f2624" stroke-width="2.2"/>
<path d="M1517.1 320.5L1542.3 345.7M1542.3 320.5L1517.1 345.7M1529.7 321.9L1529.7 344.3" stroke="#000" stroke-width="3.8" fill="none"/>
<rect x="1518.6" y="312" width="22.4" height="22.4" fill="#8c7b74" stroke="#2f2624" stroke-width="2.2"/>
<path d="M1517.2 310.6L1542.4 335.8M1542.4 310.6L1517.2 335.8M1529.8 312L1529.8 334.4" stroke="#000" stroke-width="3.8" fill="none"/>
<rect x="1555.8" y="335.7" width="22.4" height="22.4" fill="#8c7b74" stroke="#2f2624" stroke-width="2.2"/>
<path d="M1554.4 334.3L1579.6 359.5M1579.6 334.3L1554.4 359.5M1567 335.7L1567 358.1" stroke="#000" stroke-width="3.8" fill="none"/>
<rect x="1376.55" y="358.45" width="22.5" height="22.5" fill="#fff100" stroke="#e8212a" stroke-width="2.7"/>
<rect x="1377.25" y="385.85" width="22.5" height="22.5" fill="#fff100" stroke="#e8212a" stroke-width="2.7"/>
<rect x="1370.05" y="400.25" width="22.5" height="22.5" fill="#fff100" stroke="#e8212a" stroke-width="2.7"/>
<path d="M1376.35 358.25L1399.25 381.15M1399.25 358.25L1376.35 381.15" stroke="#ff0000" stroke-width="2.8" fill="none"/>
<path d="M1377.05 385.65L1399.95 408.55M1399.95 385.65L1377.05 408.55" stroke="#ff0000" stroke-width="2.8" fill="none"/>
<path d="M1369.85 400.05L1392.75 422.95M1392.75 400.05L1369.85 422.95" stroke="#ff0000" stroke-width="2.8" fill="none"/>
<path d="M406.1 718L417.3 729.2L406.1 740.4L394.9 729.2Z" fill="#00a051" stroke="#2f2624" stroke-width="2.7" stroke-linejoin="round"/>
<path d="M422.8 725.2L434 736.4L422.8 747.6L411.6 736.4Z" fill="#00a051" stroke="#2f2624" stroke-width="2.7" stroke-linejoin="round"/>
<path d="M453.3 744.1L464.5 755.3L453.3 766.5L442.1 755.3Z" fill="#00a051" stroke="#2f2624" stroke-width="2.7" stroke-linejoin="round"/>
<path d="M597.5 703L608.7 714.2L597.5 725.4L586.3 714.2Z" fill="#00a051" stroke="#2f2624" stroke-width="2.7" stroke-linejoin="round"/>
<path d="M456.8 800.7L468 811.9L456.8 823.1L445.6 811.9Z" fill="#00a051" stroke="#2f2624" stroke-width="2.7" stroke-linejoin="round"/>
<path d="M498 717.4L509.2 728.6L498 739.8L486.8 728.6Z" fill="#00a051" stroke="#2f2624" stroke-width="2.7" stroke-linejoin="round"/>
<path d="M501.4 726.9L512.6 738.1L501.4 749.3L490.2 738.1Z" fill="#00a051" stroke="#2f2624" stroke-width="2.7" stroke-linejoin="round"/>
<path d="M513.5 717.4L524.7 728.6L513.5 739.8L502.3 728.6Z" fill="#00a051" stroke="#2f2624" stroke-width="2.7" stroke-linejoin="round"/>
<path d="M526 725.3L537.2 736.5L526 747.7L514.8 736.5Z" fill="#00a051" stroke="#2f2624" stroke-width="2.7" stroke-linejoin="round"/>
<path d="M530.6 728.6L541.8 739.8L530.6 751L519.4 739.8Z" fill="#00a051" stroke="#2f2624" stroke-width="2.7" stroke-linejoin="round"/>
<path d="M529.8 714.9L541 726.1L529.8 737.3L518.6 726.1Z" fill="#00a051" stroke="#2f2624" stroke-width="2.7" stroke-linejoin="round"/>
<path d="M490.3 763.8L501.5 775L490.3 786.2L479.1 775Z" fill="#00a051" stroke="#2f2624" stroke-width="2.7" stroke-linejoin="round"/>
<path d="M498 764.7L509.2 775.9L498 787.1L486.8 775.9Z" fill="#00a051" stroke="#2f2624" stroke-width="2.7" stroke-linejoin="round"/>
<path d="M500.6 753.5L511.8 764.7L500.6 775.9L489.4 764.7Z" fill="#00a051" stroke="#2f2624" stroke-width="2.7" stroke-linejoin="round"/>
<path d="M509.2 743.2L520.4 754.4L509.2 765.6L498 754.4Z" fill="#00a051" stroke="#2f2624" stroke-width="2.7" stroke-linejoin="round"/>
<path d="M556.7 737.2L567.9 748.4L556.7 759.6L545.5 748.4Z" fill="#00a051" stroke="#2f2624" stroke-width="2.7" stroke-linejoin="round"/>
<path d="M539.2 766.4L550.4 777.6L539.2 788.8L528 777.6Z" fill="#00a051" stroke="#2f2624" stroke-width="2.7" stroke-linejoin="round"/>
<path d="M544.4 751.8L555.6 763L544.4 774.2L533.2 763Z" fill="#00a051" stroke="#2f2624" stroke-width="2.7" stroke-linejoin="round"/>
<path d="M574.4 750.1L585.6 761.3L574.4 772.5L563.2 761.3Z" fill="#00a051" stroke="#2f2624" stroke-width="2.7" stroke-linejoin="round"/>
<path d="M562.4 755.2L573.6 766.4L562.4 777.6L551.2 766.4Z" fill="#00a051" stroke="#2f2624" stroke-width="2.7" stroke-linejoin="round"/>
<path d="M576.1 772.4L587.3 783.6L576.1 794.8L564.9 783.6Z" fill="#00a051" stroke="#2f2624" stroke-width="2.7" stroke-linejoin="round"/>
<path d="M476.5 781.8L487.7 793L476.5 804.2L465.3 793Z" fill="#e61f28" stroke="#2f2624" stroke-width="2.7" stroke-linejoin="round"/>
<path d="M459.4 789.6L470.6 800.8L459.4 812L448.2 800.8Z" fill="#e61f28" stroke="#2f2624" stroke-width="2.7" stroke-linejoin="round"/>
<path d="M478.2 799L489.4 810.2L478.2 821.4L467 810.2Z" fill="#e61f28" stroke="#2f2624" stroke-width="2.7" stroke-linejoin="round"/>
<path d="M519.5 787L530.7 798.2L519.5 809.4L508.3 798.2Z" fill="#e61f28" stroke="#2f2624" stroke-width="2.7" stroke-linejoin="round"/>
<path d="M528.9 801.6L540.1 812.8L528.9 824L517.7 812.8Z" fill="#e61f28" stroke="#2f2624" stroke-width="2.7" stroke-linejoin="round"/>
<path d="M547.8 806.7L559 817.9L547.8 829.1L536.6 817.9Z" fill="#e61f28" stroke="#2f2624" stroke-width="2.7" stroke-linejoin="round"/>
<path d="M540.9 808.5L552.1 819.7L540.9 830.9L529.7 819.7Z" fill="#e61f28" stroke="#2f2624" stroke-width="2.7" stroke-linejoin="round"/>
<path d="M568.4 791.3L579.6 802.5L568.4 813.7L557.2 802.5Z" fill="#e61f28" stroke="#2f2624" stroke-width="2.7" stroke-linejoin="round"/>
<path d="M613.1 797L624.3 808.2L613.1 819.4L601.9 808.2Z" fill="#e61f28" stroke="#2f2624" stroke-width="2.7" stroke-linejoin="round"/>
<path d="M461.8 851.2L473 862.4L461.8 873.6L450.6 862.4Z" fill="#e61f28" stroke="#2f2624" stroke-width="2.7" stroke-linejoin="round"/>
<path d="M694.4 761.6L705.6 772.8L694.4 784L683.2 772.8Z" fill="#af4b8d" stroke="#2f2624" stroke-width="2.7" stroke-linejoin="round"/>
<path d="M545.2 790.4L556.4 801.6L545.2 812.8L534 801.6Z" fill="#af4b8d" stroke="#2f2624" stroke-width="2.7" stroke-linejoin="round"/>
<path d="M514.3 800.7L525.5 811.9L514.3 823.1L503.1 811.9Z" fill="#af4b8d" stroke="#2f2624" stroke-width="2.7" stroke-linejoin="round"/>
<rect x="417.95" y="825.75" width="22.5" height="22.5" fill="#fff100" stroke="#2f2624" stroke-width="2.6"/>
<rect x="407.55" y="834.35" width="22.5" height="22.5" fill="#fff100" stroke="#2f2624" stroke-width="2.6"/>
<rect x="405.85" y="849.75" width="22.5" height="22.5" fill="#fff100" stroke="#2f2624" stroke-width="2.6"/>
<rect x="401.25" y="848.05" width="22.5" height="22.5" fill="#fff100" stroke="#2f2624" stroke-width="2.6"/>
<rect x="373.05" y="900.35" width="22.5" height="22.5" fill="#fff100" stroke="#2f2624" stroke-width="2.6"/>
<rect x="370.95" y="866.25" width="22.5" height="22.5" fill="#fff100" stroke="#2f2624" stroke-width="2.6"/>
<rect x="371.05" y="849.25" width="22.5" height="22.5" fill="#fff100" stroke="#2f2624" stroke-width="2.6"/>
<rect x="386.65" y="877.35" width="22.5" height="22.5" fill="#fff100" stroke="#2f2624" stroke-width="2.6"/>
<rect x="395.65" y="844.75" width="22.5" height="22.5" fill="#fff100" stroke="#2f2624" stroke-width="2.6"/>
<path d="M312.4 881.05L323.1 904.15L301.7 904.15Z" fill="#f18b1a" stroke="#2f2624" stroke-width="2.5" stroke-miterlimit="2"/>
<path d="M430 822.85L440.7 845.95L419.3 845.95Z" fill="#f18b1a" stroke="#2f2624" stroke-width="2.5" stroke-miterlimit="2"/>
<path d="M429.4 813.45L440.1 836.55L418.7 836.55Z" fill="#f18b1a" stroke="#2f2624" stroke-width="2.5" stroke-miterlimit="2"/>
<path d="M419.3 806.25L430 829.35L408.6 829.35Z" fill="#f18b1a" stroke="#2f2624" stroke-width="2.5" stroke-miterlimit="2"/>
<path d="M420.6 805.45L431.3 828.55L409.9 828.55Z" fill="#f18b1a" stroke="#2f2624" stroke-width="2.5" stroke-miterlimit="2"/>
<path d="M533.7 881.45L544.4 904.55L523 904.55Z" fill="#00a0e9" stroke="#2f2624" stroke-width="2.5" stroke-miterlimit="2"/>
<path d="M533 940.55L543.7 963.65L522.3 963.65Z" fill="#00a0e9" stroke="#2f2624" stroke-width="2.5" stroke-miterlimit="2"/>
<path d="M451.2 974.45L461.9 997.55L440.5 997.55Z" fill="#00a0e9" stroke="#2f2624" stroke-width="2.5" stroke-miterlimit="2"/>
<path d="M462.4 977.95L473.1 1001.05L451.7 1001.05Z" fill="#00a0e9" stroke="#2f2624" stroke-width="2.5" stroke-miterlimit="2"/>
<path d="M495.4 799.95L506.1 823.05L484.7 823.05Z" fill="#00a0e9" stroke="#2f2624" stroke-width="2.5" stroke-miterlimit="2"/>
<path d="M499.7 810.25L510.4 833.35L489 833.35Z" fill="#00a0e9" stroke="#2f2624" stroke-width="2.5" stroke-miterlimit="2"/>
<path d="M515.2 815.45L525.9 838.55L504.5 838.55Z" fill="#00a0e9" stroke="#2f2624" stroke-width="2.5" stroke-miterlimit="2"/>
<path d="M468.8 804.25L479.5 827.35L458.1 827.35Z" fill="#00a0e9" stroke="#2f2624" stroke-width="2.5" stroke-miterlimit="2"/>
<path d="M479.1 822.35L489.8 845.45L468.4 845.45Z" fill="#00a0e9" stroke="#2f2624" stroke-width="2.5" stroke-miterlimit="2"/>
<path d="M425.2 894.25L435.9 917.35L414.5 917.35Z" fill="#00a0e9" stroke="#2f2624" stroke-width="2.5" stroke-miterlimit="2"/>
<path d="M456.8 884.25L467.5 907.35L446.1 907.35Z" fill="#00a0e9" stroke="#2f2624" stroke-width="2.5" stroke-miterlimit="2"/>
<path d="M466.5 877.25L477.2 900.35L455.8 900.35Z" fill="#00a0e9" stroke="#2f2624" stroke-width="2.5" stroke-miterlimit="2"/>
<path d="M447 893.05L457.7 916.15L436.3 916.15Z" fill="#00a0e9" stroke="#2f2624" stroke-width="2.5" stroke-miterlimit="2"/>
<path d="M438.2 851.05L448.9 874.15L427.5 874.15Z" fill="#00a0e9" stroke="#2f2624" stroke-width="2.5" stroke-miterlimit="2"/>
<path d="M442.2 851.35L452.9 874.45L431.5 874.45Z" fill="#00a0e9" stroke="#2f2624" stroke-width="2.5" stroke-miterlimit="2"/>
<path d="M449.2 847.35L459.9 870.45L438.5 870.45Z" fill="#00a0e9" stroke="#2f2624" stroke-width="2.5" stroke-miterlimit="2"/>
<path d="M454 851.55L464.7 874.65L443.3 874.65Z" fill="#00a0e9" stroke="#2f2624" stroke-width="2.5" stroke-miterlimit="2"/>
<path d="M435.5 870.35L446.2 893.45L424.8 893.45Z" fill="#00a0e9" stroke="#2f2624" stroke-width="2.5" stroke-miterlimit="2"/>
<path d="M434.7 868.95L445.4 892.05L424 892.05Z" fill="#00a0e9" stroke="#2f2624" stroke-width="2.5" stroke-miterlimit="2"/>
<circle cx="497.3" cy="881.7" r="11.2" fill="#f18b1a" stroke="#2f2624" stroke-width="2.6"/>
<circle cx="489.1" cy="887.9" r="11.2" fill="#f18b1a" stroke="#2f2624" stroke-width="2.6"/>
<circle cx="459.5" cy="883.8" r="11.2" fill="#f18b1a" stroke="#2f2624" stroke-width="2.6"/>
<circle cx="386.7" cy="898.2" r="11.2" fill="#f18b1a" stroke="#2f2624" stroke-width="2.6"/>
<circle cx="410.8" cy="906.5" r="11.2" fill="#f18b1a" stroke="#2f2624" stroke-width="2.6"/>
<circle cx="441" cy="904.4" r="11.2" fill="#f18b1a" stroke="#2f2624" stroke-width="2.6"/>
<circle cx="441" cy="916.8" r="11.2" fill="#f18b1a" stroke="#2f2624" stroke-width="2.6"/>
<rect x="369.55" y="1017.45" width="22.5" height="22.5" fill="#fff100" stroke="#e8212a" stroke-width="2.7"/>
<path d="M369.35 1017.25L392.25 1040.15M392.25 1017.25L369.35 1040.15" stroke="#ff0000" stroke-width="2.8" fill="none"/>
<path d="M1249.8 718L1261 729.2L1249.8 740.4L1238.6 729.2Z" fill="#00a051" stroke="#2f2624" stroke-width="2.7" stroke-linejoin="round"/>
<path d="M1266.5 725.2L1277.7 736.4L1266.5 747.6L1255.3 736.4Z" fill="#00a051" stroke="#2f2624" stroke-width="2.7" stroke-linejoin="round"/>
<path d="M1297 744.1L1308.2 755.3L1297 766.5L1285.8 755.3Z" fill="#00a051" stroke="#2f2624" stroke-width="2.7" stroke-linejoin="round"/>
<path d="M1441.2 703L1452.4 714.2L1441.2 725.4L1430 714.2Z" fill="#00a051" stroke="#2f2624" stroke-width="2.7" stroke-linejoin="round"/>
<path d="M1300.5 800.7L1311.7 811.9L1300.5 823.1L1289.3 811.9Z" fill="#00a051" stroke="#2f2624" stroke-width="2.7" stroke-linejoin="round"/>
<path d="M1341.7 717.4L1352.9 728.6L1341.7 739.8L1330.5 728.6Z" fill="#00a051" stroke="#2f2624" stroke-width="2.7" stroke-linejoin="round"/>
<path d="M1345.1 726.9L1356.3 738.1L1345.1 749.3L1333.9 738.1Z" fill="#00a051" stroke="#2f2624" stroke-width="2.7" stroke-linejoin="round"/>
<path d="M1357.2 717.4L1368.4 728.6L1357.2 739.8L1346 728.6Z" fill="#00a051" stroke="#2f2624" stroke-width="2.7" stroke-linejoin="round"/>
<path d="M1369.7 725.3L1380.9 736.5L1369.7 747.7L1358.5 736.5Z" fill="#00a051" stroke="#2f2624" stroke-width="2.7" stroke-linejoin="round"/>
<path d="M1374.3 728.6L1385.5 739.8L1374.3 751L1363.1 739.8Z" fill="#00a051" stroke="#2f2624" stroke-width="2.7" stroke-linejoin="round"/>
<path d="M1373.5 714.9L1384.7 726.1L1373.5 737.3L1362.3 726.1Z" fill="#00a051" stroke="#2f2624" stroke-width="2.7" stroke-linejoin="round"/>
<path d="M1334 763.8L1345.2 775L1334 786.2L1322.8 775Z" fill="#00a051" stroke="#2f2624" stroke-width="2.7" stroke-linejoin="round"/>
<path d="M1341.7 764.7L1352.9 775.9L1341.7 787.1L1330.5 775.9Z" fill="#00a051" stroke="#2f2624" stroke-width="2.7" stroke-linejoin="round"/>
<path d="M1344.3 753.5L1355.5 764.7L1344.3 775.9L1333.1 764.7Z" fill="#00a051" stroke="#2f2624" stroke-width="2.7" stroke-linejoin="round"/>
<path d="M1352.9 743.2L1364.1 754.4L1352.9 765.6L1341.7 754.4Z" fill="#00a051" stroke="#2f2624" stroke-width="2.7" stroke-linejoin="round"/>
<path d="M1400.4 737.2L1411.6 748.4L1400.4 759.6L1389.2 748.4Z" fill="#00a051" stroke="#2f2624" stroke-width="2.7" stroke-linejoin="round"/>
<path d="M1382.9 766.4L1394.1 777.6L1382.9 788.8L1371.7 777.6Z" fill="#00a051" stroke="#2f2624" stroke-width="2.7" stroke-linejoin="round"/>
<path d="M1388.1 751.8L1399.3 763L1388.1 774.2L1376.9 763Z" fill="#00a051" stroke="#2f2624" stroke-width="2.7" stroke-linejoin="round"/>
<path d="M1418.1 750.1L1429.3 761.3L1418.1 772.5L1406.9 761.3Z" fill="#00a051" stroke="#2f2624" stroke-width="2.7" stroke-linejoin="round"/>
<path d="M1406.1 755.2L1417.3 766.4L1406.1 777.6L1394.9 766.4Z" fill="#00a051" stroke="#2f2624" stroke-width="2.7" stroke-linejoin="round"/>
<path d="M1419.8 772.4L1431 783.6L1419.8 794.8L1408.6 783.6Z" fill="#00a051" stroke="#2f2624" stroke-width="2.7" stroke-linejoin="round"/>
<path d="M1320.2 781.8L1331.4 793L1320.2 804.2L1309 793Z" fill="#e61f28" stroke="#2f2624" stroke-width="2.7" stroke-linejoin="round"/>
<path d="M1303.1 789.6L1314.3 800.8L1303.1 812L1291.9 800.8Z" fill="#e61f28" stroke="#2f2624" stroke-width="2.7" stroke-linejoin="round"/>
<path d="M1321.9 799L1333.1 810.2L1321.9 821.4L1310.7 810.2Z" fill="#e61f28" stroke="#2f2624" stroke-width="2.7" stroke-linejoin="round"/>
<path d="M1363.2 787L1374.4 798.2L1363.2 809.4L1352 798.2Z" fill="#e61f28" stroke="#2f2624" stroke-width="2.7" stroke-linejoin="round"/>
<path d="M1372.6 801.6L1383.8 812.8L1372.6 824L1361.4 812.8Z" fill="#e61f28" stroke="#2f2624" stroke-width="2.7" stroke-linejoin="round"/>
<path d="M1391.5 806.7L1402.7 817.9L1391.5 829.1L1380.3 817.9Z" fill="#e61f28" stroke="#2f2624" stroke-width="2.7" stroke-linejoin="round"/>
<path d="M1384.6 808.5L1395.8 819.7L1384.6 830.9L1373.4 819.7Z" fill="#e61f28" stroke="#2f2624" stroke-width="2.7" stroke-linejoin="round"/>
<path d="M1412.1 791.3L1423.3 802.5L1412.1 813.7L1400.9 802.5Z" fill="#e61f28" stroke="#2f2624" stroke-width="2.7" stroke-linejoin="round"/>
<path d="M1456.8 797L1468 808.2L1456.8 819.4L1445.6 808.2Z" fill="#e61f28" stroke="#2f2624" stroke-width="2.7" stroke-linejoin="round"/>
<path d="M1305.5 851.2L1316.7 862.4L1305.5 873.6L1294.3 862.4Z" fill="#e61f28" stroke="#2f2624" stroke-width="2.7" stroke-linejoin="round"/>
<path d="M1538.1 761.6L1549.3 772.8L1538.1 784L1526.9 772.8Z" fill="#af4b8d" stroke="#2f2624" stroke-width="2.7" stroke-linejoin="round"/>
<path d="M1388.9 790.4L1400.1 801.6L1388.9 812.8L1377.7 801.6Z" fill="#af4b8d" stroke="#2f2624" stroke-width="2.7" stroke-linejoin="round"/>
<path d="M1358 800.7L1369.2 811.9L1358 823.1L1346.8 811.9Z" fill="#af4b8d" stroke="#2f2624" stroke-width="2.7" stroke-linejoin="round"/>
<rect x="1261.65" y="825.75" width="22.5" height="22.5" fill="#fff100" stroke="#2f2624" stroke-width="2.6"/>
<rect x="1251.25" y="834.35" width="22.5" height="22.5" fill="#fff100" stroke="#2f2624" stroke-width="2.6"/>
<rect x="1249.55" y="849.75" width="22.5" height="22.5" fill="#fff100" stroke="#2f2624" stroke-width="2.6"/>
<rect x="1244.95" y="848.05" width="22.5" height="22.5" fill="#fff100" stroke="#2f2624" stroke-width="2.6"/>
<rect x="1216.75" y="900.35" width="22.5" height="22.5" fill="#fff100" stroke="#2f2624" stroke-width="2.6"/>
<rect x="1214.65" y="866.25" width="22.5" height="22.5" fill="#fff100" stroke="#2f2624" stroke-width="2.6"/>
<rect x="1214.75" y="849.25" width="22.5" height="22.5" fill="#fff100" stroke="#2f2624" stroke-width="2.6"/>
<rect x="1230.35" y="877.35" width="22.5" height="22.5" fill="#fff100" stroke="#2f2624" stroke-width="2.6"/>
<rect x="1239.35" y="844.75" width="22.5" height="22.5" fill="#fff100" stroke="#2f2624" stroke-width="2.6"/>
<path d="M1156.1 881.05L1166.8 904.15L1145.4 904.15Z" fill="#f18b1a" stroke="#2f2624" stroke-width="2.5" stroke-miterlimit="2"/>
<path d="M1273.7 822.85L1284.4 845.95L1263 845.95Z" fill="#f18b1a" stroke="#2f2624" stroke-width="2.5" stroke-miterlimit="2"/>
<path d="M1273.1 813.45L1283.8 836.55L1262.4 836.55Z" fill="#f18b1a" stroke="#2f2624" stroke-width="2.5" stroke-miterlimit="2"/>
<path d="M1263 806.25L1273.7 829.35L1252.3 829.35Z" fill="#f18b1a" stroke="#2f2624" stroke-width="2.5" stroke-miterlimit="2"/>
<path d="M1264.3 805.45L1275 828.55L1253.6 828.55Z" fill="#f18b1a" stroke="#2f2624" stroke-width="2.5" stroke-miterlimit="2"/>
<path d="M1377.4 881.45L1388.1 904.55L1366.7 904.55Z" fill="#00a0e9" stroke="#2f2624" stroke-width="2.5" stroke-miterlimit="2"/>
<path d="M1376.7 940.55L1387.4 963.65L1366 963.65Z" fill="#00a0e9" stroke="#2f2624" stroke-width="2.5" stroke-miterlimit="2"/>
<path d="M1294.9 974.45L1305.6 997.55L1284.2 997.55Z" fill="#00a0e9" stroke="#2f2624" stroke-width="2.5" stroke-miterlimit="2"/>
<path d="M1306.1 977.95L1316.8 1001.05L1295.4 1001.05Z" fill="#00a0e9" stroke="#2f2624" stroke-width="2.5" stroke-miterlimit="2"/>
<path d="M1339.1 799.95L1349.8 823.05L1328.4 823.05Z" fill="#00a0e9" stroke="#2f2624" stroke-width="2.5" stroke-miterlimit="2"/>
<path d="M1343.4 810.25L1354.1 833.35L1332.7 833.35Z" fill="#00a0e9" stroke="#2f2624" stroke-width="2.5" stroke-miterlimit="2"/>
<path d="M1358.9 815.45L1369.6 838.55L1348.2 838.55Z" fill="#00a0e9" stroke="#2f2624" stroke-width="2.5" stroke-miterlimit="2"/>
<path d="M1312.5 804.25L1323.2 827.35L1301.8 827.35Z" fill="#00a0e9" stroke="#2f2624" stroke-width="2.5" stroke-miterlimit="2"/>
<path d="M1322.8 822.35L1333.5 845.45L1312.1 845.45Z" fill="#00a0e9" stroke="#2f2624" stroke-width="2.5" stroke-miterlimit="2"/>
<path d="M1268.9 894.25L1279.6 917.35L1258.2 917.35Z" fill="#00a0e9" stroke="#2f2624" stroke-width="2.5" stroke-miterlimit="2"/>
<path d="M1300.5 884.25L1311.2 907.35L1289.8 907.35Z" fill="#00a0e9" stroke="#2f2624" stroke-width="2.5" stroke-miterlimit="2"/>
<path d="M1310.2 877.25L1320.9 900.35L1299.5 900.35Z" fill="#00a0e9" stroke="#2f2624" stroke-width="2.5" stroke-miterlimit="2"/>
<path d="M1290.7 893.05L1301.4 916.15L1280 916.15Z" fill="#00a0e9" stroke="#2f2624" stroke-width="2.5" stroke-miterlimit="2"/>
<path d="M1281.9 851.05L1292.6 874.15L1271.2 874.15Z" fill="#00a0e9" stroke="#2f2624" stroke-width="2.5" stroke-miterlimit="2"/>
<path d="M1285.9 851.35L1296.6 874.45L1275.2 874.45Z" fill="#00a0e9" stroke="#2f2624" stroke-width="2.5" stroke-miterlimit="2"/>
<path d="M1292.9 847.35L1303.6 870.45L1282.2 870.45Z" fill="#00a0e9" stroke="#2f2624" stroke-width="2.5" stroke-miterlimit="2"/>
<path d="M1297.7 851.55L1308.4 874.65L1287 874.65Z" fill="#00a0e9" stroke="#2f2624" stroke-width="2.5" stroke-miterlimit="2"/>
<path d="M1279.2 870.35L1289.9 893.45L1268.5 893.45Z" fill="#00a0e9" stroke="#2f2624" stroke-width="2.5" stroke-miterlimit="2"/>
<path d="M1278.4 868.95L1289.1 892.05L1267.7 892.05Z" fill="#00a0e9" stroke="#2f2624" stroke-width="2.5" stroke-miterlimit="2"/>
<circle cx="1341" cy="881.7" r="11.2" fill="#f18b1a" stroke="#2f2624" stroke-width="2.6"/>
<circle cx="1332.8" cy="887.9" r="11.2" fill="#f18b1a" stroke="#2f2624" stroke-width="2.6"/>
<circle cx="1303.2" cy="883.8" r="11.2" fill="#f18b1a" stroke="#2f2624" stroke-width="2.6"/>
<circle cx="1230.4" cy="898.2" r="11.2" fill="#f18b1a" stroke="#2f2624" stroke-width="2.6"/>
<circle cx="1254.5" cy="906.5" r="11.2" fill="#f18b1a" stroke="#2f2624" stroke-width="2.6"/>
<circle cx="1284.7" cy="904.4" r="11.2" fill="#f18b1a" stroke="#2f2624" stroke-width="2.6"/>
<circle cx="1284.7" cy="916.8" r="11.2" fill="#f18b1a" stroke="#2f2624" stroke-width="2.6"/>
<rect x="1213.25" y="1017.45" width="22.5" height="22.5" fill="#fff100" stroke="#e8212a" stroke-width="2.7"/>
<path d="M1213.05 1017.25L1235.95 1040.15M1235.95 1017.25L1213.05 1040.15" stroke="#ff0000" stroke-width="2.8" fill="none"/>
<rect x="103.5" y="16.3" width="710" height="486.4" fill="none" stroke="#2f2624" stroke-width="2.6"/>
<path d="M245.5 502.7v-8.6M387.5 502.7v-8.6M529.5 502.7v-8.6M671.5 502.7v-8.6M103.5 77.1h8.6M103.5 137.9h8.6M103.5 198.7h8.6M103.5 259.5h8.6M103.5 320.3h8.6M103.5 381.1h8.6M103.5 441.9h8.6" stroke="#2f2624" stroke-width="1.7" fill="none"/>
<text x="82.4" y="542.3" font-family='"Liberation Sans", sans-serif' font-size="35.8" fill="#000" text-anchor="start" letter-spacing="1.45">0.0</text>
<text x="224.5" y="542.3" font-family='"Liberation Sans", sans-serif' font-size="35.8" fill="#000" text-anchor="start" letter-spacing="1.45">0.1</text>
<text x="367.2" y="542.3" font-family='"Liberation Sans", sans-serif' font-size="35.8" fill="#000" text-anchor="start" letter-spacing="1.45">0.2</text>
<text x="509.8" y="542.3" font-family='"Liberation Sans", sans-serif' font-size="35.8" fill="#000" text-anchor="start" letter-spacing="1.45">0.3</text>
<text x="651.5" y="542.3" font-family='"Liberation Sans", sans-serif' font-size="35.8" fill="#000" text-anchor="start" letter-spacing="1.45">0.4</text>
<text x="793.2" y="542.3" font-family='"Liberation Sans", sans-serif' font-size="35.8" fill="#000" text-anchor="start" letter-spacing="1.45">0.5</text>
<text x="52.57" y="24.3" font-family='"Liberation Sans", sans-serif' font-size="35.8" fill="#000" text-anchor="start" letter-spacing="1.45">13</text>
<text x="52.57" y="85.1" font-family='"Liberation Sans", sans-serif' font-size="35.8" fill="#000" text-anchor="start" letter-spacing="1.45">12</text>
<text x="52.57" y="145.9" font-family='"Liberation Sans", sans-serif' font-size="35.8" fill="#000" text-anchor="start" letter-spacing="1.45">11</text>
<text x="52.57" y="206.7" font-family='"Liberation Sans", sans-serif' font-size="35.8" fill="#000" text-anchor="start" letter-spacing="1.45">10</text>
<text x="65.32" y="267.5" font-family='"Liberation Sans", sans-serif' font-size="35.8" fill="#000" text-anchor="start" letter-spacing="1.45">9</text>
<text x="65.44" y="328.3" font-family='"Liberation Sans", sans-serif' font-size="35.8" fill="#000" text-anchor="start" letter-spacing="1.45">8</text>
<text x="65.16" y="389.1" font-family='"Liberation Sans", sans-serif' font-size="35.8" fill="#000" text-anchor="start" letter-spacing="1.45">7</text>
<text x="65.18" y="449.9" font-family='"Liberation Sans", sans-serif' font-size="35.8" fill="#000" text-anchor="start" letter-spacing="1.45">6</text>
<text x="65.57" y="510.7" font-family='"Liberation Sans", sans-serif' font-size="35.8" fill="#000" text-anchor="start" letter-spacing="1.45">5</text>
<rect x="103.5" y="612.9" width="709.3" height="484.3" fill="none" stroke="#2f2624" stroke-width="2.6"/>
<path d="M221.72 1097.2v-8.6M339.93 1097.2v-8.6M458.15 1097.2v-8.6M576.37 1097.2v-8.6M694.58 1097.2v-8.6M103.5 682.09h8.6M103.5 751.27h8.6M103.5 820.46h8.6M103.5 889.64h8.6M103.5 958.83h8.6M103.5 1028.01h8.6" stroke="#2f2624" stroke-width="1.7" fill="none"/>
<text x="95.6" y="1137.4" font-family='"Liberation Sans", sans-serif' font-size="35.8" fill="#000" text-anchor="start" letter-spacing="1.45">0</text>
<text x="204" y="1137.4" font-family='"Liberation Sans", sans-serif' font-size="35.8" fill="#000" text-anchor="start" letter-spacing="1.45">0.1</text>
<text x="322.4" y="1137.4" font-family='"Liberation Sans", sans-serif' font-size="35.8" fill="#000" text-anchor="start" letter-spacing="1.45">0.2</text>
<text x="440.3" y="1137.4" font-family='"Liberation Sans", sans-serif' font-size="35.8" fill="#000" text-anchor="start" letter-spacing="1.45">0.3</text>
<text x="558.3" y="1137.4" font-family='"Liberation Sans", sans-serif' font-size="35.8" fill="#000" text-anchor="start" letter-spacing="1.45">0.4</text>
<text x="676.7" y="1137.4" font-family='"Liberation Sans", sans-serif' font-size="35.8" fill="#000" text-anchor="start" letter-spacing="1.45">0.5</text>
<text x="794.6" y="1137.4" font-family='"Liberation Sans", sans-serif' font-size="35.8" fill="#000" text-anchor="start" letter-spacing="1.45">0.6</text>
<text x="51.5" y="621.7" font-family='"Liberation Sans", sans-serif' font-size="35.8" fill="#000" text-anchor="start" letter-spacing="1.45">25</text>
<text x="51.5" y="690.88" font-family='"Liberation Sans", sans-serif' font-size="35.8" fill="#000" text-anchor="start" letter-spacing="1.45">23</text>
<text x="51.5" y="760.07" font-family='"Liberation Sans", sans-serif' font-size="35.8" fill="#000" text-anchor="start" letter-spacing="1.45">21</text>
<text x="53.87" y="829.26" font-family='"Liberation Sans", sans-serif' font-size="35.8" fill="#000" text-anchor="start" letter-spacing="1.45">19</text>
<text x="53.87" y="898.44" font-family='"Liberation Sans", sans-serif' font-size="35.8" fill="#000" text-anchor="start" letter-spacing="1.45">17</text>
<text x="53.87" y="967.63" font-family='"Liberation Sans", sans-serif' font-size="35.8" fill="#000" text-anchor="start" letter-spacing="1.45">15</text>
<text x="53.87" y="1036.81" font-family='"Liberation Sans", sans-serif' font-size="35.8" fill="#000" text-anchor="start" letter-spacing="1.45">13</text>
<text x="53.87" y="1106" font-family='"Liberation Sans", sans-serif' font-size="35.8" fill="#000" text-anchor="start" letter-spacing="1.45">11</text>
<rect x="947" y="16.5" width="709.5" height="486.7" fill="none" stroke="#2f2624" stroke-width="2.6"/>
<path d="M1088.9 503.2v-8.6M1230.8 503.2v-8.6M1372.7 503.2v-8.6M1514.6 503.2v-8.6M947 77.34h8.6M947 138.18h8.6M947 199.01h8.6M947 259.85h8.6M947 320.69h8.6M947 381.52h8.6M947 442.36h8.6" stroke="#2f2624" stroke-width="1.7" fill="none"/>
<text x="926" y="542.7" font-family='"Liberation Sans", sans-serif' font-size="35.8" fill="#000" text-anchor="start" letter-spacing="1.45">0.0</text>
<text x="1068.1" y="542.7" font-family='"Liberation Sans", sans-serif' font-size="35.8" fill="#000" text-anchor="start" letter-spacing="1.45">0.1</text>
<text x="1210.8" y="542.7" font-family='"Liberation Sans", sans-serif' font-size="35.8" fill="#000" text-anchor="start" letter-spacing="1.45">0.2</text>
<text x="1353.4" y="542.7" font-family='"Liberation Sans", sans-serif' font-size="35.8" fill="#000" text-anchor="start" letter-spacing="1.45">0.3</text>
<text x="1495.1" y="542.7" font-family='"Liberation Sans", sans-serif' font-size="35.8" fill="#000" text-anchor="start" letter-spacing="1.45">0.4</text>
<text x="1636.8" y="542.7" font-family='"Liberation Sans", sans-serif' font-size="35.8" fill="#000" text-anchor="start" letter-spacing="1.45">0.5</text>
<text x="895.87" y="24.7" font-family='"Liberation Sans", sans-serif' font-size="35.8" fill="#000" text-anchor="start" letter-spacing="1.45">13</text>
<text x="895.87" y="85.5" font-family='"Liberation Sans", sans-serif' font-size="35.8" fill="#000" text-anchor="start" letter-spacing="1.45">12</text>
<text x="895.87" y="146.3" font-family='"Liberation Sans", sans-serif' font-size="35.8" fill="#000" text-anchor="start" letter-spacing="1.45">11</text>
<text x="895.87" y="207.1" font-family='"Liberation Sans", sans-serif' font-size="35.8" fill="#000" text-anchor="start" letter-spacing="1.45">10</text>
<text x="908.62" y="267.9" font-family='"Liberation Sans", sans-serif' font-size="35.8" fill="#000" text-anchor="start" letter-spacing="1.45">9</text>
<text x="908.74" y="328.7" font-family='"Liberation Sans", sans-serif' font-size="35.8" fill="#000" text-anchor="start" letter-spacing="1.45">8</text>
<text x="908.46" y="389.5" font-family='"Liberation Sans", sans-serif' font-size="35.8" fill="#000" text-anchor="start" letter-spacing="1.45">7</text>
<text x="908.48" y="450.3" font-family='"Liberation Sans", sans-serif' font-size="35.8" fill="#000" text-anchor="start" letter-spacing="1.45">6</text>
<text x="908.87" y="511.1" font-family='"Liberation Sans", sans-serif' font-size="35.8" fill="#000" text-anchor="start" letter-spacing="1.45">5</text>
<rect x="947" y="613.3" width="708.9" height="484.2" fill="none" stroke="#2f2624" stroke-width="2.6"/>
<path d="M1065.15 1097.5v-8.6M1183.3 1097.5v-8.6M1301.45 1097.5v-8.6M1419.6 1097.5v-8.6M1537.75 1097.5v-8.6M947 682.47h8.6M947 751.64h8.6M947 820.81h8.6M947 889.99h8.6M947 959.16h8.6M947 1028.33h8.6" stroke="#2f2624" stroke-width="1.7" fill="none"/>
<text x="939.2" y="1137.7" font-family='"Liberation Sans", sans-serif' font-size="35.8" fill="#000" text-anchor="start" letter-spacing="1.45">0</text>
<text x="1047.6" y="1137.7" font-family='"Liberation Sans", sans-serif' font-size="35.8" fill="#000" text-anchor="start" letter-spacing="1.45">0.1</text>
<text x="1166" y="1137.7" font-family='"Liberation Sans", sans-serif' font-size="35.8" fill="#000" text-anchor="start" letter-spacing="1.45">0.2</text>
<text x="1283.9" y="1137.7" font-family='"Liberation Sans", sans-serif' font-size="35.8" fill="#000" text-anchor="start" letter-spacing="1.45">0.3</text>
<text x="1401.9" y="1137.7" font-family='"Liberation Sans", sans-serif' font-size="35.8" fill="#000" text-anchor="start" letter-spacing="1.45">0.4</text>
<text x="1520.3" y="1137.7" font-family='"Liberation Sans", sans-serif' font-size="35.8" fill="#000" text-anchor="start" letter-spacing="1.45">0.5</text>
<text x="1638.2" y="1137.7" font-family='"Liberation Sans", sans-serif' font-size="35.8" fill="#000" text-anchor="start" letter-spacing="1.45">0.6</text>
<text x="894.8" y="622" font-family='"Liberation Sans", sans-serif' font-size="35.8" fill="#000" text-anchor="start" letter-spacing="1.45">25</text>
<text x="894.8" y="691.18" font-family='"Liberation Sans", sans-serif' font-size="35.8" fill="#000" text-anchor="start" letter-spacing="1.45">23</text>
<text x="894.8" y="760.37" font-family='"Liberation Sans", sans-serif' font-size="35.8" fill="#000" text-anchor="start" letter-spacing="1.45">21</text>
<text x="897.17" y="829.56" font-family='"Liberation Sans", sans-serif' font-size="35.8" fill="#000" text-anchor="start" letter-spacing="1.45">19</text>
<text x="897.17" y="898.74" font-family='"Liberation Sans", sans-serif' font-size="35.8" fill="#000" text-anchor="start" letter-spacing="1.45">17</text>
<text x="897.17" y="967.93" font-family='"Liberation Sans", sans-serif' font-size="35.8" fill="#000" text-anchor="start" letter-spacing="1.45">15</text>
<text x="897.17" y="1037.11" font-family='"Liberation Sans", sans-serif' font-size="35.8" fill="#000" text-anchor="start" letter-spacing="1.45">13</text>
<text x="897.17" y="1106.3" font-family='"Liberation Sans", sans-serif' font-size="35.8" fill="#000" text-anchor="start" letter-spacing="1.45">11</text>
<text x="418.19" y="582.3" font-family='"Liberation Sans", sans-serif' font-size="35.4" fill="#2f2624" text-anchor="start" letter-spacing="1.7">Sm/Nd</text>
<text x="1261.79" y="582.7" font-family='"Liberation Sans", sans-serif' font-size="35.4" fill="#2f2624" text-anchor="start" letter-spacing="1.7">Sm/Nd</text>
<text x="420.5" y="1177.3" font-family='"Liberation Sans", sans-serif' font-size="35.4" fill="#2f2624" text-anchor="start" letter-spacing="1.86">Lu/Hf</text>
<text x="1264.1" y="1177.6" font-family='"Liberation Sans", sans-serif' font-size="35.4" fill="#2f2624" text-anchor="start" letter-spacing="1.86">Lu/Hf</text>
<text transform="translate(36 286.5) rotate(-90)" font-size="35.4" fill="#2f2624" font-family='"Liberation Sans", sans-serif' letter-spacing="1.3"><tspan font-family='"Liberation Serif", "DejaVu Serif", serif' font-size="33.5">ε</tspan>Nd</text>
<text transform="translate(879.3 286.9) rotate(-90)" font-size="35.4" fill="#2f2624" font-family='"Liberation Sans", sans-serif' letter-spacing="1.3"><tspan font-family='"Liberation Serif", "DejaVu Serif", serif' font-size="33.5">ε</tspan>Nd</text>
<text transform="translate(36 876.6) rotate(-90)" font-size="35.4" fill="#2f2624" font-family='"Liberation Sans", sans-serif' letter-spacing="1.3"><tspan font-family='"Liberation Serif", "DejaVu Serif", serif' font-size="33.5">ε</tspan>Hf</text>
<text transform="translate(879.3 876.9) rotate(-90)" font-size="35.4" fill="#2f2624" font-family='"Liberation Sans", sans-serif' letter-spacing="1.3"><tspan font-family='"Liberation Serif", "DejaVu Serif", serif' font-size="33.5">ε</tspan>Hf</text>
<text x="127.03" y="54.8" font-family='"Liberation Sans", sans-serif' font-size="36.3" fill="#2f2624" text-anchor="start" letter-spacing="1.45">A</text>
<text x="969.76" y="56" font-family='"Liberation Sans", sans-serif' font-size="36.3" fill="#2f2624" text-anchor="start" letter-spacing="1.45">C</text>
<text x="123.62" y="653.6" font-family='"Liberation Sans", sans-serif' font-size="36.3" fill="#2f2624" text-anchor="start" letter-spacing="1.45">B</text>
<text x="965.82" y="654.4" font-family='"Liberation Sans", sans-serif' font-size="36.3" fill="#2f2624" text-anchor="start" letter-spacing="1.45">D</text>
<text x="163.65" y="66.3" font-family='"Liberation Sans", sans-serif' font-size="27.6" fill="#00a0e9" text-anchor="start" font-weight="bold" letter-spacing="1.737" word-spacing="-3.59">Reactions with</text>
<text x="164.26" y="97.5" font-family='"Liberation Sans", sans-serif' font-size="27.6" fill="#00a0e9" text-anchor="start" font-weight="bold" letter-spacing="1.745" word-spacing="-3.59">160 Ma restite</text>
<text x="163.15" y="661.6" font-family='"Liberation Sans", sans-serif' font-size="27.6" fill="#00a0e9" text-anchor="start" font-weight="bold" letter-spacing="1.737" word-spacing="-3.59">Reactions with</text>
<text x="163.76" y="692.8" font-family='"Liberation Sans", sans-serif' font-size="27.6" fill="#00a0e9" text-anchor="start" font-weight="bold" letter-spacing="1.745" word-spacing="-3.59">160 Ma restite</text>
<text x="1250.89" y="63.9" font-family='"Liberation Sans", sans-serif' font-size="24" fill="#e61f2d" text-anchor="start" font-weight="bold" letter-spacing="1.667" word-spacing="-3.12">Reaction with</text>
<text x="1250.99" y="92" font-family='"Liberation Sans", sans-serif' font-size="24" fill="#e61f2d" text-anchor="start" font-weight="bold" letter-spacing="1.605" word-spacing="-3.12">1000 Ma restite</text>
<text x="1197.19" y="657.9" font-family='"Liberation Sans", sans-serif' font-size="24" fill="#e61f2d" text-anchor="start" font-weight="bold" letter-spacing="1.667" word-spacing="-3.12">Reaction with</text>
<text x="1198.29" y="686" font-family='"Liberation Sans", sans-serif' font-size="24" fill="#e61f2d" text-anchor="start" font-weight="bold" letter-spacing="1.605" word-spacing="-3.12">1000 Ma restite</text>
<text x="1008.38" y="245.8" font-family='"Liberation Sans", sans-serif' font-size="20.3" fill="#e61f2d" text-anchor="middle" letter-spacing="0.75">with 18%</text>
<text x="1008.6" y="269.3" font-family='"Liberation Sans", sans-serif' font-size="20.3" fill="#e61f2d" text-anchor="middle" letter-spacing="1.2">melting</text>
<text x="1008.58" y="292.8" font-family='"Liberation Sans", sans-serif' font-size="20.3" fill="#e61f2d" text-anchor="middle" letter-spacing="1.15">restite</text>
<text x="1271.78" y="141.5" font-family='"Liberation Sans", sans-serif' font-size="20.3" fill="#f7bfc5" text-anchor="middle" letter-spacing="0.75">with 10%</text>
<text x="1272" y="165" font-family='"Liberation Sans", sans-serif' font-size="20.3" fill="#f7bfc5" text-anchor="middle" letter-spacing="1.2">melting</text>
<text x="1271.98" y="188.5" font-family='"Liberation Sans", sans-serif' font-size="20.3" fill="#f7bfc5" text-anchor="middle" letter-spacing="1.15">restite</text>
<text x="1003.77" y="835.9" font-family='"Liberation Sans", sans-serif' font-size="20.3" fill="#e61f2d" text-anchor="middle" letter-spacing="0.75">with 18%</text>
<text x="1004" y="859.4" font-family='"Liberation Sans", sans-serif' font-size="20.3" fill="#e61f2d" text-anchor="middle" letter-spacing="1.2">melting</text>
<text x="1003.98" y="882.9" font-family='"Liberation Sans", sans-serif' font-size="20.3" fill="#e61f2d" text-anchor="middle" letter-spacing="1.15">restite</text>
<text x="1207.38" y="767.5" font-family='"Liberation Sans", sans-serif' font-size="20.3" fill="#f7bfc5" text-anchor="middle" letter-spacing="0.75">with 10%</text>
<text x="1207.6" y="790" font-family='"Liberation Sans", sans-serif' font-size="20.3" fill="#f7bfc5" text-anchor="middle" letter-spacing="1.2">melting</text>
<text x="1207.58" y="812.5" font-family='"Liberation Sans", sans-serif' font-size="20.3" fill="#f7bfc5" text-anchor="middle" letter-spacing="1.15">restite</text>
<text x="-3.87" y="1231.5" font-family='"Liberation Sans", sans-serif' font-size="35.4" fill="#000" text-anchor="start" font-weight="bold" letter-spacing="1.892" word-spacing="-4.6">Forearc basalt</text>
<path d="M287.9 1209L298.6 1219.7L287.9 1230.4L277.2 1219.7Z" fill="#00a051" stroke="#2f2624" stroke-width="2.3" stroke-linejoin="miter"/>
<text x="302.07" y="1231.5" font-family='"Liberation Sans", sans-serif' font-size="35.4" fill="#000" text-anchor="start" letter-spacing="1.54" word-spacing="-4.6">U1440B U-FAB</text>
<path d="M584.2 1207.2L594.7 1217.7L584.2 1228.2L573.7 1217.7Z" fill="#e61f28" stroke="#2f2624" stroke-width="2.3" stroke-linejoin="miter"/>
<text x="598.77" y="1230.2" font-family='"Liberation Sans", sans-serif' font-size="35.4" fill="#000" text-anchor="start" letter-spacing="1.483" word-spacing="-4.6">U1440B L-FAB</text>
<path d="M870.7 1204.6L881.2 1215.1L870.7 1225.6L860.2 1215.1Z" fill="#af4b8d" stroke="#2f2624" stroke-width="2.3" stroke-linejoin="miter"/>
<text x="885.07" y="1227.7" font-family='"Liberation Sans", sans-serif' font-size="35.4" fill="#000" text-anchor="start" letter-spacing="1.365" word-spacing="-4.6">U1441A L-FAB</text>
<circle cx="1160.6" cy="1215.1" r="10.8" fill="#f18b1a" stroke="#2f2624" stroke-width="2.3"/>
<text x="1176.23" y="1224.7" font-family='"Liberation Sans", sans-serif' font-size="35.4" fill="#4a4340" text-anchor="start" letter-spacing="1.653" word-spacing="-4.6">Izu Trench Wall</text>
<path d="M287.9 1238.5L1433.2 1240.8" stroke="#2f2624" stroke-width="2.6" fill="none"/>
<text x="1462.07" y="1225.1" font-family='"Liberation Sans", sans-serif' font-size="35.4" fill="#000" text-anchor="start" font-weight="bold" letter-spacing="1.632" word-spacing="-4.6">U1438 Basalts</text>
<path d="M1737.6 1202.4L1748.35 1224.4L1726.85 1224.4Z" fill="#00a0e9" stroke="#2f2624" stroke-width="2.3" stroke-miterlimit="10"/>
<text x="98.07" y="1300.6" font-family='"Liberation Sans", sans-serif' font-size="35.4" fill="#3a3230" text-anchor="start" font-weight="bold" letter-spacing="1.679" word-spacing="-4.6">West Philippine Basin MORB</text>
<rect x="670.1" y="1277.5" width="21.6" height="21.6" fill="#fff100" stroke="#2f2624" stroke-width="2.6"/>
<text x="695.79" y="1299.2" font-family='"Liberation Sans", sans-serif' font-size="35.4" fill="#000" text-anchor="start" letter-spacing="1.665">447</text>
<rect x="775.85" y="1276.35" width="21.3" height="21.3" fill="#fff100" stroke="#e8212a" stroke-width="2.7"/>
<path d="M775.65 1276.15L797.35 1297.85M797.35 1276.15L775.65 1297.85" stroke="#ff0000" stroke-width="2.8" fill="none"/>
<text x="800.42" y="1298.2" font-family='"Liberation Sans", sans-serif' font-size="35.4" fill="#000" text-anchor="start" letter-spacing="0.573">291</text>
<path d="M888.8 1275L899.55 1296.6L878.05 1296.6Z" fill="#f18b1a" stroke="#2f2624" stroke-width="2.3" stroke-miterlimit="10"/>
<text x="909" y="1295.6" font-family='"Liberation Sans", sans-serif' font-size="35.4" fill="#000" text-anchor="start" letter-spacing="-0.742">1201</text>
<path d="M660.9 1308.0L987.9 1307.2" stroke="#2f2624" stroke-width="2.6" fill="none"/>
<text x="1036.23" y="1296.3" font-family='"Liberation Sans", sans-serif' font-size="35.4" fill="#000" text-anchor="start" font-weight="bold" letter-spacing="1.753" word-spacing="-4.6">Izu Forearc Mesozoic Basalts</text>
<rect x="1586.3" y="1276.8" width="21.6" height="21.6" fill="#8c7b74" stroke="#2f2624" stroke-width="2.5"/>
<path d="M1586.3 1276.8L1607.9 1298.4M1607.9 1276.8L1586.3 1298.4M1597.1 1276.8L1597.1 1298.4" stroke="#2f2624" stroke-width="2.6" fill="none"/>
</svg>
</body></html>
